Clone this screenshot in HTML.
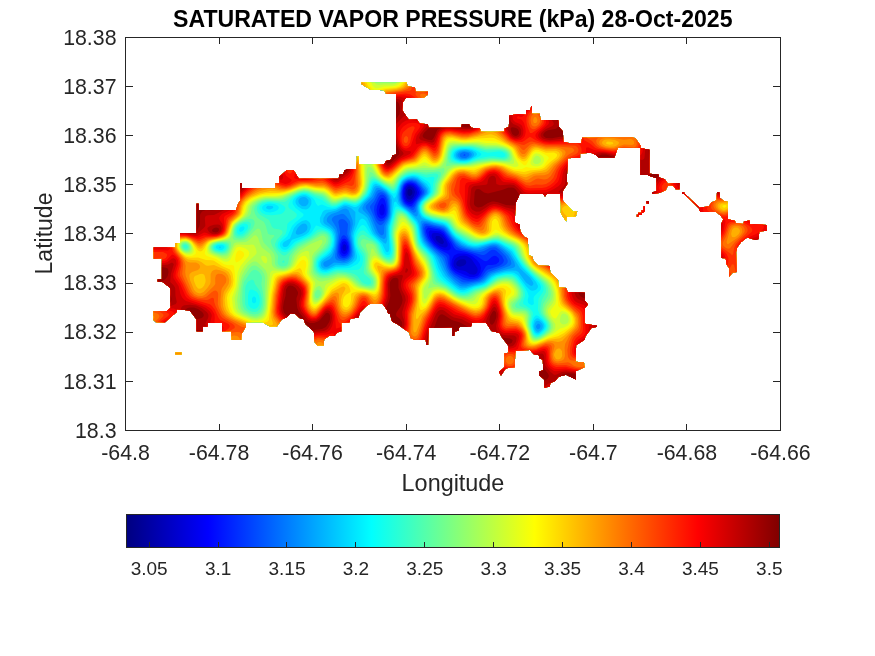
<!DOCTYPE html>
<html><head><meta charset="utf-8"><title>Saturated Vapor Pressure</title>
<style>html,body{margin:0;padding:0;background:#fff}body{width:875px;height:656px;overflow:hidden}svg{display:block}text{font-family:"Liberation Sans",Arial,sans-serif;fill:#262626}</style></head><body>
<svg width="875" height="656" viewBox="0 0 875 656">
<defs><linearGradient id="jet" x1="0" x2="1" y1="0" y2="0"><stop offset="0" stop-color="#000080"/><stop offset="0.125" stop-color="#0000ff"/><stop offset="0.375" stop-color="#00ffff"/><stop offset="0.625" stop-color="#ffff00"/><stop offset="0.875" stop-color="#ff0000"/><stop offset="1" stop-color="#800000"/></linearGradient></defs>
<rect width="875" height="656" fill="#fff"/>
<defs><clipPath id="isl"><polygon shape-rendering="crispEdges" points="153.7,247.5 175.6,247.5 175.6,243 180.2,243 180.2,233 196.6,233 196.6,203.7 198.5,203.7 198.5,210 236,210 238,204 240.5,200 240.5,183 241.5,183 241.5,188 275.3,188 275.3,183.3 279.5,183.3 279.5,176.5 287,170 293.5,170 298.9,178.8 338.7,178.8 339.4,174.7 343.5,174 344.2,170.6 347.6,169.2 356.5,169.2 356.9,156.2 358.6,156.2 359,164.4 384,164.4 386,161 391.5,159.6 392.2,155.5 396.1,154.5 396.1,93.7 386.1,93.7 384.1,90.3 370.4,89.6 364.9,86.2 361.4,84.1 361.4,82.5 406.7,82.5 407.4,86.2 414.9,87.5 415.6,91.7 428,91.7 428,94.4 423.9,97.8 406,97.8 402.6,102.6 402.2,110.2 408.8,119.8 416.9,119.5 419.6,123.6 427.8,124.3 428.5,127.7 461.4,127.7 461.9,124.3 469,124.3 471,127.7 480,128.4 480.6,131.8 504.7,131.8 504.7,128.4 508.8,127 509.5,115.4 518.4,114 525.9,114.7 526.3,109.9 530,109.9 531.4,106.2 532,106.2 532,113.7 539.6,113.7 540.7,119.9 558.1,119.9 558.8,126.7 562.9,131.5 563.3,141.8 569.8,143.2 581.4,143.2 582.1,137.7 632.2,137 635.6,138.4 640.4,145.3 640.4,148 617.8,148 614.4,157.6 598.6,157.6 595.8,154.9 591,152.8 580.1,153.5 580.1,157.6 567.7,158.3 566.8,180 567.3,184.1 562.8,191 562.8,200.6 573.1,211.6 577.2,211.6 575.8,216.4 566.9,217 566.2,221.2 564.9,219.8 560.8,213 560.8,202 560.1,193.7 547,193.7 545,196.5 542.9,193.7 519.6,193.7 518.2,197.8 515.5,203.3 514.8,222.5 519.6,224.6 520.3,231.4 524.4,236.9 527.8,238.3 528.5,254.4 532.6,257.1 533.3,260.6 538.1,265.4 549.8,266.1 550.2,272.2 558,279.8 558.7,287.3 566.2,288 567.6,292.1 584.8,292.8 584.8,300.4 587.9,304.5 584.8,308.6 584.8,323.7 592.3,325 597.1,325.7 596.4,327.1 591.6,327.8 585.3,336.4 584.6,339.8 576.1,345.3 575.7,361.7 584,362.4 584.6,367.2 575.7,371.3 575.7,379.6 566.1,374.8 558.6,376.8 555.2,380.9 550.4,383 549.7,386.4 544.6,387.8 544.2,379.6 539.4,375.4 539.4,371.3 543.2,370.6 542.8,359.7 539.4,358.3 538.7,354.9 533.9,354.2 529.8,350.1 515.4,350.8 514.7,367.2 507.8,367.9 505.1,369.3 501,375.4 498.9,372 504.4,367.2 504.4,353.5 508.5,352.8 508.5,346 501.7,337 499.6,332.9 491.4,330.9 486,322.5 472.3,322.5 471,326.5 459.3,327 458.6,330.7 454.5,331.5 454.2,336 452.4,336 452.4,327.2 428.4,328 428.1,344.9 426.4,344.9 425.7,340.1 414.7,340.1 410.6,338 409.2,332.5 405.1,329.8 397.5,324.3 392.1,321.6 390,314 388,313.3 387.3,310.6 382.5,303.7 370.1,303.7 366,306.5 359.9,312.6 358.5,317.4 350.2,318.8 349.6,322.2 341.3,322.9 341.3,331.2 337.2,332.5 334.5,336 329,336 324.2,339.4 323.5,345.6 317.3,345.6 314.6,342.1 313.9,331.8 305,323.6 304.3,319.5 299.5,318.1 295.4,314 290.6,313.3 286.5,317.4 281.7,319.5 276.9,326.4 270,326.4 262.5,322.2 246,322.2 246,326.4 241.6,333.9 241.2,340.1 231.6,340.1 231.2,331.2 222,331.2 222,322.9 207.6,322.9 207.6,326.4 202.8,326.4 202.8,331.2 196.6,331.2 196.6,319.5 189.8,310.6 176.7,309.2 176.7,312 165,322.2 156,322.2 153.4,320 153.4,311.3 166.5,311.3 170.6,307.8 170.6,290 170,287.8 161.9,281.4 157.7,281.4 157.7,279.5 161.9,279.5 161.9,258.5 153.7,258.5"/><polygon shape-rendering="crispEdges" points="640.4,148 649.3,149.8 649.3,175 640.4,175"/><polygon shape-rendering="crispEdges" points="648,173.7 658.4,174.6 659.3,177.4 664.8,179.2 667.9,183.8 679.4,182.9 679.4,189.3 675.8,189.3 673,185.6 667.9,185.6 665.7,190.2 659.3,192.9 652,193.8 652,192.5 656.6,191.1 656.6,178.3 648,175.5"/><polygon shape-rendering="crispEdges" points="699.1,207.9 709,206.3 711.3,202.5 716.6,200.2 717,192.3 719.3,192.3 719.9,198 724.2,201 727.6,201.8 728,219.3 734.9,220.8 735.6,223.1 743.3,223.9 744,221.6 749.4,220.4 750.1,224.3 766.6,224.9 766.6,230.7 759.3,231.5 758.5,239.1 755.5,239.9 747.1,237.6 741,242.2 737.2,247.5 736.1,252.1 736.7,271.9 732.6,272.7 729.1,276.8 729.5,268.8 726.5,264.3 725.7,258.2 721.5,257.9 721.2,223.9 723.4,219.3 720.4,215.5 715.8,211.7 700.6,212.1 699.1,209.4"/><polygon shape-rendering="crispEdges" points="683.3,193.2 684.3,193.2 699.6,207.6 699.1,208.6"/><polygon shape-rendering="crispEdges" points="682,192 684.2,192 684.2,194 682,194"/><polygon shape-rendering="crispEdges" points="646.5,201.3 649,201.3 649,203.5 646.5,203.5"/><polygon shape-rendering="crispEdges" points="643.4,206.3 645,206.3 645,211.5 643.4,211.5"/><polygon shape-rendering="crispEdges" points="641.5,210 643.4,210 643.4,213 641.5,213"/><polygon shape-rendering="crispEdges" points="638,212.8 642,212.8 642,215 638,215"/><polygon shape-rendering="crispEdges" points="636.8,214.8 638.5,214.8 638.5,216.6 636.8,216.6"/><polygon shape-rendering="crispEdges" points="175.4,352.4 181.5,352.4 181.5,354.5 175.4,354.5"/></clipPath></defs>
<g clip-path="url(#isl)" shape-rendering="geometricPrecision"><rect x="148" y="78" width="640" height="320" fill="#00008f"/>
<path fill="#0000af" fill-rule="evenodd" d="M148,78l634,0 0,314-634,0zM408,189.5l-.6,2.5 .1,2 .5,1.3 2,1 2.2-2.3 .3-2-.5-1.7-2-1.5z"/>
<path fill="#0000cf" fill-rule="evenodd" d="M148,78l634,0 0,314-634,0zM408,186.7l-2,2.5-.4,4.8 1.3,4 1.1,1.3 2,.4 2-1.3 1.9-2.4 1.1-4-1-2.9-2-2.1-2-.7zM436,235.9l-.6,2.1 .7,2 1.8,2 2.1,1.4 2,.8 1-.2 1.1-2-2.1-4.1-2.7-1.9zM460,259.4l-2,1.1-1.3,1.5-.6,2 1.2,2 2.7,.8 4-1.3 1.8-1.5 .6-2-.9-2-1.5-.8z"/>
<path fill="#0000ef" fill-rule="evenodd" d="M148,78l634,0 0,314-634,0zM344,243.9l-1.3,2.1-.3,2 .6,2 1,1.2 2-1.1 .4-2.1-.4-2.7zM408,185.1l-2,1.5-.8,1.4-.9,6 1.7,6.1 2,1.7 2,.3 2-1 2-2.3 2.9-4.8 .2-2-1.1-3-2.5-3-3.5-1.3zM432,233.7l-.5,2.3 .6,2 1.9,3.1 2.8,2.9 3.2,2.2 4,1.4 2-.2 1.6-1.4 .1-2-1.6-4-4.1-5.3-4-1.8-4-.1zM460,255.9l-4,2.1-2,2.7-.6,3.3 .4,2 1.4,2 2.8,1.8 6,1 2,.8 4,2.7 4,.5 2-.9 1.3-1.9 .4-2-.3-2-5.2-8-2-2-3.7-2-2.5-.5z"/>
<path fill="#0010ff" fill-rule="evenodd" d="M148,78l634,0 0,314-634,0zM344,241l-2,1.6-1.2,5.4 .6,4 .6,1.1 2,1.1 2-.7 1.1-1.5 .9-4-.2-2-1.7-4zM382,203.5l-2,2.8-.9,3.7 .5,4 2.4,1.7 2.2-1.7 .6-4-.8-4.7zM408,183.7l-2,1.2-2,3.1-.7,4 .1,4 .6,2.8 1.8,3.2 2.2,1.6 2,.5 2-.6 2-2.3 3.7-5.2 1.1-2 .2-2-1.8-4-3.2-3.3-2-1zM430,230.3l-1.4,1.7 .5,4 2,4 3.2,4 5.7,4.2 4,1.8 4,.4 2-1 .7-1.4-.6-4-6.4-10-3.7-2.5zM458,253.6l-4,2-2.2,4.4-.4,4 .4,2 2.2,3.7 4,2.5 12,4.8 4,.1 4-1.7 2.3-3.4 .7-4-1.1-4-3-4-5-4-3.9-1.7-4-.9z"/>
<path fill="#0030ff" fill-rule="evenodd" d="M148,78l634,0 0,314-634,0zM342,239.5l-2,4.8-.4,7.7 .7,2 1.7,1.9 2,.5 2-.6 2-2 1.1-3.8-.2-4-.9-3.6-2-3.1-2-.9zM382,197.7l-2,1.8-1.2,2.5-1.6,4-.7,4 .5,4 1,2.4 2,2 2,.3 2-1 1.3-1.7 .9-2 .3-4-.5-5.7-1.2-4.3-.8-1.6zM406,183.6l-2.1,2.4-1.2,4-.3,4 .3,4 1.3,3.5 2,2.4 4,2 2-.2 7.3-9.7 1.2-2 .3-2-1.8-4-3-3.4-2-1.4-4-.9zM428,227.6l-2,2.4 .1,2 1.9,5.8 2,3.3 4,4.5 4,3.1 10,5.3 1.5,2 .2,8 1.2,4 1.1,2 4,3.4 8,4 6,1.6 4-.2 3.2-.8 3-2 5.8-9.7 2-1.2 4,0 4-.8 2.9-2.3 .4-2-.8-2-2.5-2.1-2-.2-2,1-4,3.6-2,1-2-.5-7.5-4.8-4.3-2-6.2-1.9-9.9-2.1-2.1-2.3-3.1-5.7-7.1-10-3.8-2.2z"/>
<path fill="#0050ff" fill-rule="evenodd" d="M148,78l634,0 0,314-634,0zM344,235l-2,1.1-2,3.8-1.4,6.1-.4,6 .3,2 1.5,2.8 2,1.2 2,.3 2-.5 2.3-1.8 1.2-2 .7-4-.7-6-1.5-4.4-2-3.1zM380,195.2l-1.9,2.8-3.7,8-.4,4 .8,4 1.6,4 1.6,2.2 2,1.2 2-.1 2-1.1 2.8-4.2 .9-4 0-4-.6-6-1.1-4.2-2-2.5-2-.8zM408,181.6l-3.7,2.4-1.2,2-1.5,6 .1,6 1.4,4 1.5,2 3.4,2.5 4,1.3 2-1.4 3.5-6.4 4.6-6 .4-2-1.8-4-4.7-4.9-4-1.8zM426,225.7l-1.5,2.3 .1,4 1.1,4 2.3,4.6 6,6.7 11.9,8.7 1.2,2 1.4,8 1.7,4 3.8,4.2 8,5 2,.9 4,.7 6-.5 4-1 4-2.7 4-5.5 2-1.6 11-3.5 3.1-2 1.5-2 .3-2-1.9-4-6-5.6-2-.7-2,.1-2,1-4,3.3-2,.8-2,.1-22-6-4-2.5-10-13.8-2.5-2.7-3.5-1.6-10-2.5z"/>
<path fill="#0070ff" fill-rule="evenodd" d="M148,78l634,0 0,314-634,0zM340,219.4l-.9,.6-.8,2 1.8,10-2.5,14-.8,8 .3,2 1.1,2 1.8,1.2 4,.8 4-1.6 2.1-2.4 1.1-4-.1-4-1.1-6.1-2.8-7.9 .8-10-2-3.1-2-1.3-2-.5zM378,193.6l-4,7.6-3.9,4.8 0,2 5.9,13.5 2,2.5 2,1.3 2-.6 2-1.9 3.3-4.8 1.2-4 .2-8-.7-6.3-2-4.6-2-1.9-2-.9-2-.1zM406,181.4l-2.7,2.6-1.8,4-.9,6 .6,6 2,4 2.1,2 6.7,3.9 2-.1 3.3-7.8 6.3-8 .5-2-.5-2-2.9-4-4.7-4.4-4-1.4-4,.4zM426,223.8l-2,.8-1.1,3.4 .8,6 2.4,6 4.8,6 11.9,10 1.7,2 3,10 2.5,4.5 4,4 8,5.4 2,.6 4,.1 8-1.4 4-1.2 2.9-2 5.4-6 15.5-6 2.9-2 1.1-2-.2-2-2.1-4-6-6-3.5-2.4-2-.4-4,.6-6,3.2-4,.9-6-.6-12-3.3-3.8-2-2.2-2-12-15.2-4-1.7zM464,153.9l-.6,2.1 1.9,0-.1-2z"/>
<path fill="#008fff" fill-rule="evenodd" d="M148,78l634,0 0,314-634,0zM342,213.8l-7.6,2.2-2.2,2-.5,2 4.9,8 1.4,6-.8,8-2,12-.1,4 1.7,2 1.2,.5 6,1.2 4-1.4 2-1.7 1.7-2.6 .6-4-.9-8-2.2-10 1.3-8-.3-4-.9-2-3.3-4.1-2-1.7zM380,189.9l-2,.2-1.8,1.9-2.7,6-7.5,7.5-.4,2.5 5.6,8 6.8,16 2,2.4 2,1.1 1.9-1.5 .5-8 3.6-6.8 1.1-3.2 .7-4-.1-6-.4-6-1.3-4.1-2-2.7-2-1.6zM408,179.7l-4,2.2-2.6,4.1-1.6,8 .4,6 1.8,4 1.8,2 10.2,6.9 2-1.3 .7-5.6 1.6-4 6.7-8 .6-2-.4-2-4.7-6-4.5-3.7-4-1.1zM464,152l-2,.5-2.3,1.5 .3,2.4 2,1.4 2,.3 2-.2 3.1-1.9 .4-2-1.5-1.2zM424,222.3l-1.9,1.7-.4,4 .8,6 2.2,6 4.5,6 12.6,12 2,4 2.8,8 2.4,4 5,4.9 6,4.6 2,.9 4,.2 14-3.1 4-2.5 6-6 19.6-7 1.9-2-.8-4-2.7-4.5-5.6-5.5-6-4-2.4-.5-3.8,.5-8.2,3.4-4,.7-6-.5-6-1.6-6-2.7-4-3.3-4-4.4-6-8.5-2-1.7-2-1-8-1.7-6-2z"/>
<path fill="#00afff" fill-rule="evenodd" d="M148,78l634,0 0,314-634,0zM342,209.6l-4,2.1-6.5,2.3-2.8,2-1.5,2-.5,2 .5,2 4.8,4 3.1,4 1.2,4 .1,6-1.2,8-2.7,8-2.5,2.9-6,3.1-.9,2 .9,2.3 2,.6 2-.5 6-3.8 8,.7 4-.3 2.3-1 2.6-2 2.4-4 .2-4-2.7-18 2.1-10-.4-4-4.1-10-2.4-1.5-2,.2zM378,187.7l-2,.6-4,8.3-7.8,7.4-1.9,4 .6,2 5.1,4.9 1.9,3.1 6.1,15 4,4.2 4,2.1 1.4-1.3 .6-1.8 .3-10.2 3.3-8 .9-4 0-14-1.2-4-2.9-4-4.4-3zM406,179.5l-3.2,2.5-2.2,4-1.8,8 .2,6 1.7,4 1.8,2 11.5,9.2 2,1.2 1.3-.4 .5-2-.4-6 .9-4 2.5-4 5.6-6 .6-2-.2-2-.9-2-3.6-4-4.3-3.9-2-1.1-4-.8zM460,151.8l-2.4,2.2-.1,2 2.5,2.4 2,.7 4-.1 2.9-1 2.5-2 .5-2-1.9-2.1-6-1zM538,323.5l-2,2.5 .3,2 1.7,1.4 2-1.1 .6-2.3-.6-1.5zM422,220.6l-1.4,1.4 0,6 1.3,8 2.1,5.3 3.6,4.7 8.3,8 3.3,4 5.3,12 3.5,5.7 8,7.5 4,2.7 2,.6 4-.1 16-4.3 3.1-2.1 3.8-4 3.1-2.3 10-3.3 10.6-2.4 1.4-.6 1.2-1.4-.9-4-4.9-8-4.4-4-7-4.8-2-.7-4-.1-14,4.2-4,0-6-1.3-6-2.4-6-4.6-4-4.3-5.6-8-2.4-2-18-5z"/>
<path fill="#00cfff" fill-rule="evenodd" d="M148,78l634,0 0,314-634,0zM302,197.2l-1.9,.8-1.6,2-.1,2 1,2 2.6,1.9 2,.4 2-.4 2-2 .6-1.9-.2-2-2.4-2.5-2-.5zM346,205.9l-2,.3-8,4.2-8,2.2-2,1.4-2.5,4-.2,4 1.4,2 5.3,3.2 3,2.8 1.8,4 .5,4-.8,8-2.5,7-2,2.6-6,3.8-2.5,2.6-.6,2 .2,2 .9,1.5 2,1.3 4-.3 8-3.7 8,.2 4-.9 4-2.7 2.5-3.4 .5-4-2.8-18 .6-4 2.4-8 .2-12-4.4-4zM376,185.7l-2,1.5-3.6,8.8-8.2,8-3.1,4-.9,2 .5,2 5.3,2.9 3.3,3.1 2,4 2.9,8 2.3,4 9.5,8.9 2,.9 1.3-3.8 .5-14 2.8-8 .8-4 .5-14-1.1-4-4.8-5.7-6-3.7zM408,177.8l-4.3,2.2-1.9,2-1.8,3.6-2.5,10.4-.1,2 .9,4 2.7,4 8,6 8.3,8 1.7,4 1.8,12 2.2,6 3,4 9.6,10 2.3,4 4.2,10 3.6,6 8.3,7.9 6,4.1 2,.5 4-.4 18-5.6 7.2-6.5 4.8-2.4 10-2.6 6-.6 4,.4 2.4,1.2 7.6,10.4 4,3.1 2,.5 1.5-2-.6-2-2.6-4-10.3-9.7-9.9-16.3-8.2-6-3.9-2.1-4-.7-4,.6-12,3.4-4,.1-6.1-1.3-5.9-2.7-6-4.6-4-4.3-4.3-6.4-3.7-3.1-10-2.4-12.2-4.5-2.4-4-.9-4 .1-4 1.6-4 7.5-8 .7-2-.4-3.3-3.7-4.7-6.3-5.3-4-1.4zM464,149.8l-4,.7-2.8,1.5-1.4,2-.1,2 1.2,2 4.2,2 4.9,.1 5.2-2.1 2.4-2 .7-2-1.4-2-4.9-1.9zM536,321.3l-1.5,2.7-.1,4 1.6,3.1 2,.8 3.1-1.9 1.4-2 .4-2-.6-2-2.3-2.5-2-.8zM304,223.6l-2,.5-2,1.3-2.4,2.6-1.9,4 .3,2 2,.7 3.5-.7 3.6-2 1.8-2 .6-2-.2-2-1.3-1.9z"/>
<path fill="#00efff" fill-rule="evenodd" d="M148,78l634,0 0,314-634,0zM220,246l-1,2 1.9,0zM268,205.7l-.9,.3-1.2,2 2.1,1.3 2,.1 3.4-1.4-.8-2zM300,196l-3,2-1.3,2-.3,2 .6,2 2,2.5 4,2.5 4,.5 2-.7 2-2 1.4-2.8-.1-4-1.2-2-4.1-2.5-2-.3zM406,177.6l-3.5,2.4-1.6,2-1.9,4-3,10.2-2,2.6-1.3-2.8-5.5-6-7.2-4.7-4-1.5-2,.6-1.2,1.6-2.1,6-2.2,4-10.5,9.9-2,1-2,0-6-2.2-4-.1-8,4.1-4,.8-6,.3-2,.8-1.4,1.4-2.7,6 .1,4 2,2.9 8,4.5 2,2.1 1.8,4.5 .4,4-.8,6-2.7,6-2.7,2.8-6,4.2-2.3,3-.4,4 .8,2 1.9,1.8 4,.8 10-3.9 8-.1 4-.6 4-2 4.2-4 .8-2 .1-2-2.9-12-.6-8 .9-4 5.2-12 2.3-1.4 2,.6 2,1.9 6.4,12.9 9.9,10 3.7,7.7 2,.5 1.2-2.2 .2-2-.7-20 3.3-12 2-13.5 2-1 1.4,2.5 1.9,2 8.7,6.3 8.8,9.7 1.5,4 1.9,12 1.8,4.7 2.4,3.3 9.4,10 2,4 2.7,8 4.4,8 3.8,4 11.3,9 2.4,1 3.6,.2 10-3.7 8-1.8 4-2.1 6-5.5 4-2.2 8-2.1 6-.6 4,.5 4,2.6 8,10.6 4,4.1 2,.8 2-.2 2-.9 1.6-1.7 .4-2-1.9-4-5.2-6-8.9-8.8-10-15.6-4.4-3.6-7.6-4.4-4-1.4-4,.2-10,2.7-6,1-4-.3-4-1.1-6-3.1-6-4.4-3.1-3.2-4.9-7.1-2-2-4-1.8-8-1.6-8-2.8-4-2.6-2.1-4.1-.5-6 1.7-4 7.9-8 .8-2-.2-4-2.7-4-8.9-6.7-2-.8-4-.4zM460,149.5l-2,.6-2.8,1.9-1,2-.2,2 .9,2 1.1,1 4,1.7 4,.4 5.5-1.1 6.6-4 1-2-1.4-2-3.7-2-6-1zM302,220.9l-4.5,3.1-3.5,4-4,10.4-6.2,3.6-1.3,2 .3,2 1.2,1 2,.1 2-1.1 4-6.2 10.9-3.8 3.7-2 2.3-2 1.8-4 .2-2-.9-2.9-2-2.2-2-.8zM536,318.5l-2,2.3-1,5.2 .8,4 1.2,2 1,1.1 2,.3 2-.8 2.9-2.6 1.2-2 .4-2-.4-2-2.1-3-4-2.7z"/>
<path fill="#10ffef" fill-rule="evenodd" d="M148,78l634,0 0,314-634,0zM216,245.9l-.3,2.1 3.7,2 2.6-.1 2.3-1.9 0-2-2.3-1.2-4,.2zM240,227.6l-1.1,2.4 1.1,1.9 2-.4 1.8-1.5 .8-2-.6-1.4-2-.2zM252,298l0,3.9 2,1.7 2.1-1.6-.1-4-2-1.7zM266,203.9l-3.3,2.1-.7,2 .8,2 3.2,2.1 4,.3 4-.7 3.6-1.7 1.3-2-.7-2-3.7-2-4.5-.5zM408,175.8l-4,1.9-2.7,2.3-2.3,4-3,8-2,1.8-2-.8-5.8-5-6.2-4-4-1.8-2,.1-2,1.7-2.7,8-2.3,4-7,6.7-4,2.3-2,.1-8-2-2,.2-8,3.9-4,.6-4-.8-6-2.4-2,.3-2,1-2-2.3-1.4-3.6-1.7-2-4.9-3.3-2-.7-4,0-4.9,2-2.5,2-1.5,2-.6,2 .2,2 2.9,4 7.9,6-.2,2-7.4,6-3.9,4-4.6,10-6.6,6-1,2 .2,2.3 2,2.6 2,.9 2-.1 2-.9 6.5-6.8 11.5-5.5 4-2.5 1.9-2 4.1-6.4 2,.3 8,3 4,2.6 2,3.1 1,5.4-.9,6-2.1,4.3-3.7,3.7-5.4,4-2.7,4-.4,4 2,4 2.2,1.5 4,.5 10-3.6 10-.1 4-.6 7.5-3.7 2.5-3.4 .2-2.6-.4-2-4.1-10-.8-8 .8-4 2.3-4.5 2-2.8 2-1.6 2,.1 2,2 4.2,6.8 7.8,7.1 2.5,2.9 3.5,8.6 2,2.1 2,.6 2-1.1 1.1-4.2-1.4-16 .5-8 4.7-18 1.1-1.6 2,.4 8.3,5.2 9.1,10 1.9,4 1.9,12 1.2,4 2.4,4 9.3,10 1.8,4 2.4,8 3.7,8 3.6,4 12.4,9.6 4,2 2,.3 4-.5 8-3.6 10-2.7 4-2.6 5.1-4.5 3.7-2 9.2-2.1 6,.1 4,1.9 2,2 7.2,10.1 2.2,4 1.3,4-1,4 .3,2.6 1.3,1.4 2.7,1.2 1.9-1.2-.4-6 .9-2 6.1-6 .5-2-.2-2-.9-2-3.3-4-13.8-14-4.3-6-4.5-8.2-2-2.6-12-6.8-4-1.2-4,.3-14,3.3-4,0-4.1-.8-5.9-2.8-8-5.5-3.4-3.7-4.6-6.6-2-1.8-4-1.5-10-2.3-8-3.4-2-2.2-1.1-2.2-.8-4 .1-2 1.8-4 6.6-6 2.6-4 .1-4-1.1-4-2.2-2.4-10-5.8-4-.8zM456,149.7l-2.5,2.3-.9,2-.1,2 .5,2 2,2 5,1.7 6,.1 4-1.1 10.2-4.7 1.3-2-2.4-2-3.8-2-5.3-1.5-8-.3zM536,315.2l-2,2-1.2,2.8-.8,2.6-.1,3.4 2.1,6.8 2,1.8 2,.1 2-.7 4-3.5 1.6-2.5 .3-2-.3-2-2.7-4-4.9-4.3z"/>
<path fill="#30ffcf" fill-rule="evenodd" d="M148,78l634,0 0,314-634,0zM218,243.8l-3.7,2.2-.2,2 1.7,2 4.2,1.3 2,0 2.9-1.3 1.3-2 0-2-2-2zM244,223.6l-4,1.6-2.6,2.8-.7,4 1.3,2.3 2,.4 2-.4 2-1.2 2.8-3.1 1-2 .2-2.5-1.1-1.5zM250,289.8l-1.2,2.2-.8,3.9 .1,8.1 .9,2 1.9,2 3.1,1 2-.4 2-1.7 1.3-2.9 .5-4-.7-4-1.1-2.5-2-2.2-4-1.8zM262,204l-2.1,2-.6,2 .4,2 2.3,2.9 4,1.9 6,.4 8-1 2-.7 1.8-1.5 1.3-2 .4-2-1.6-2-3.4-2-2.5-.7-6-1.1-4-.1zM412,173.9l-6,1.6-4,2.6-3,3.9-3,7.3-2,2.1-2-.4-7.1-5-8.9-5.2-2-.4-2,1-1.5,2.6-3.5,10-5.4,6-3.6,2.7-2,.8-4-.1-6-1.5-2,.2-8,3.7-4,.4-4-1.6-6-4.7-6-2.3-8-4.2-4-.7-2,.3-3.4,1-3.8,2-4.3,4-1.9,4-.3,2 .7,2 5.7,4 2,2 .1,2-1.5,2-6.2,4-1.7,2-.6,6-1.1,4-5.9,6-1.8,2.8-.4,3.2 .8,2 3.6,3.5 2,.6 2-.2 4-2.4 6-6.2 14.5-7.3 6.7-6 2.8-.7 4,.6 4,1.8 2.1,2.3 1.4,4 .1,4-1,4-2.5,4-8.1,6.8-2.5,3.2-.7,2-.3,4 1.5,4.3 2,1.9 4,1.3 4-.5 6-2.4 4-.9 12,.6 8-.5 2-1.2 2-3 1.1-5.6-.5-4-4.6-7.4-1.5-4.6 0-6 1.5-4.1 2-2.3 2-1.2 2,.2 14,12.3 2,3.1 2,6 2,3.1 2,1.5 2,.7 2-.5 1.8-2.8 .6-4-1.8-16 .7-8 4.5-16 2.2-1.1 2,.5 4,2 3.3,2.6 8.1,10 1.4,4 1.8,12 1.4,3.9 2,2.9 8.5,9.2 1.9,4 5.1,16 2.8,4 17,12 2.7,1 4,.4 4-1.2 6-3.1 10.6-3.1 3.3-2 6.1-5.1 4-2.1 4-1.1 6-.6 4,.5 2,.9 2,1.5 4.7,6 2.5,4 1.7,4 .2,4-2,6 .3,2 6.6,4.4 2.7,3.6 .2,2-2.1,10 .5,4 1.3,4 1.4,2.5 2,1.3 2,0 4-2 3.9-3.8 1.4-4-1.3-4-6.6-8-1.5-4 .4-10 .6-2 4-6 .7-2-.5-4-2.7-4-12.4-12-5.3-6-4.1-6-4.6-8.9-4.1-3.1-9.9-4.8-4-.9-4,.3-14,3.1-4-.1-4-1-5.3-2.6-8.7-5.8-2.2-2.2-5.7-8-2.1-1.5-14-3.6-6.9-2.9-2.1-2-1.2-2-.9-4 .1-2 2-4 6.9-6 2.6-4 .5-8 1.5-6-.5-1-2-.3-4,.9-2-.1-8-3.1zM458,147.9l-4.6,2.1-1.5,2-.9,4 .3,2 1.2,2 5.5,2.2 6,.6 4-.6 10-3.6 10-2.1 6-.2 8,1.1 2-.4 1.4-1-.1-2-3.3-2.2-4-.3-10,1.2-6-1.4-10-3.5-8-.5z"/>
<path fill="#50ffaf" fill-rule="evenodd" d="M148,78l634,0 0,314-634,0zM184,244.8l-.8,1.2 .8,2.1 2,.7 1.6-.8 .1-2-1.7-1.5zM216,243.7l-2.9,2.3-.3,2 1.1,2 2.1,1.3 6,1.3 2.4-.6 2.3-2 1-2 .2-2-1-2-4.9-1.2zM244,221.9l-4.4,2.1-2.4,2-1.3,2-.7,4 .2,2 .6,1.3 2,1.3 4-.1 2-1 3.7-3.5 2.6-4 .6-4-.9-1.5-2-1zM252,279.6l-4,2.2-2.4,4.2-.5,4 0,14 1.5,4 2,2 3.4,1.8 4,.2 2-1 2.4-3 1.2-4 .1-6-1.7-6.8-5.1-7.2-.9-3.2zM408,173.6l-4,1.8-4,3.4-4,8-2,2.5-2,0-2-1-14-9-2-.7-2,.3-2,2.8-2.3,8.3-1.9,4-5.8,6.2-4,2.1-2,.3-6-1.4-4-.1-8,3.4-4,.2-2-.9-8-6.5-6-1.7-8-3.3-4-.6-4,.8-3.7,1.5-3.6,2-6.7,5.3-2,.6-14-.9-7.1,1-3.6,2-1.7,2-.7,2 .1,2 1,2.4 2,2.3 9.1,5.3 2.9,7.1 2,1.3 6,1.1 2,1.1 .6,1.4-.4,2-5.4,6-1.8,4 .2,2 2.1,4 4.7,4.8 2,.9 2-.6 12-11 12.4-6.1 7.6-5.7 4-1 3.3,.7 2.7,1.7 1.5,2.3 .6,2 .1,4-.5,2-2.2,4-9.5,8.7-2,3.3-.8,6 .8,3.8 1.4,2.2 2.6,2 4,1 4-.5 6-2.3 4-.9 4,.1 8,1.3 4,1.4 3.3,1.9 4.5,6 2.2,1.6 4,1.1 2.6-.7 .8-2-1.4-3.1-5.8-4.9-.6-2 1.4-12-.2-4-.8-2.4-4.2-5.6-1.7-4-.1-4 .7-2 1.3-2.1 2-1.1 2,.1 10,6.1 4,4.1 2.5,6.9 2.6,4 2.9,2.2 2,.6 2-.1 2-1.7 1.2-5 0-6-1.6-12 .9-8 3.5-13.1 2-2 4,.6 4,2.5 8.2,10 1.6,4 1.8,12 1.3,4 2.6,4 5.8,6 2.7,4 6,19.8 2,3.1 10,5.8 8,6 4,1.7 4,.5 4-1 7.1-3.9 10.9-3.6 8-6 4-2.3 8-1.6 6,.7 2,1.1 3.6,3.7 4.9,8 .7,4-.2,2-3.9,8 .7,2 6.2,2.3 2.7,1.7 1.5,2 .8,4-1.1,6 .1,4 2.7,8 1.3,2 2,.9 2-.1 2.3-.8 3.7-2.6 3.3-3.4 1.3-4-1.3-4-5.8-8-.8-2-.5-4 1.6-8 4.2-7.8-.1-4.2-1.9-4-1.7-2-13-12-5.2-6-4.2-6-4.9-10-3-2.4-14-6.1-4-.1-10,2.5-6,.7-4-.3-4-1.1-14-8.5-6.6-8.7-2.2-2-3.2-1.4-12-2.7-6-2.4-3.2-3.5-.8-2-.2-4 2.1-4 7.2-6 1.7-2 1.5-4 .7-6 3.3-8-.3-1.4-2-1.1-2-.1-8,1.4-8-1.8-4-.4zM454,148l-2,1.5-1.5,2.5-.9,6 .6,2 1.8,1.8 4,1.1 10,.5 14-3.9 10-1.4 14,.6 2.2-.7 1.3-2-.3-2-1.6-2-5.6-1.9-14,.3-12-3.3-4-.5-10,.1zM282,261.8l0,.4 2,.6 .6-.8-.6-1.9z"/>
<path fill="#70ff8f" fill-rule="evenodd" d="M148,78l634,0 0,314-634,0zM184,243.4l-1.1,.6-.9,1.6 .6,2.4 1.4,1.4 2,.9 2-.5 1.1-1.8-.2-2-1.5-2-1.4-.6zM222,242l-4,.5-4.4,1.5-1.7,2-.3,2 .8,2 2.7,2 4.9,1.5 4,.1 2-.9 2-2.2 1.1-2.5-.1-4-1-1-2-.8zM246,219.7l-6,2.9-4.1,3.4-1.7,4-.3,4 .4,2 1.7,2.1 4,.6 4-.9 4-3.3 5-6.5 1.6-4 0-2-.9-2-1.7-.9-2-.3zM410,171.8l-4,1.3-4.5,2.9-3.4,4-4.1,7.2-2,.5-8-4.3-10-6.7-2-.5-2,1.7-3.4,12.1-2,4-4.6,5.1-4,2.2-2,.2-8-1.5-2,.1-8,3.2-4-.1-2.1-1.2-5.9-5.5-2-1-8-1.9-6-2.3-4-.5-4,.8-4,1.6-12,6.6-4,.6-14-.3-4,1-4,2.1-2.8,2.8-.8,2-.2,2 .9,4 2.6,4 6.3,4.1 1.9,3.9 2.1,7.7 2,1.1 4,.1 .5,1.1-3.6,4-.2,2 1.4,4 6.1,10-.6,6 .4,2 2,2 2,.6 4-.7 2-2.2 1.5-7.7 4.8-6 3.7-3.6 14-7.4 8-5.3 4-.3 2,.8 1.7,1.8 .7,2 0,4-.7,2-2.7,4-7,6.4-2.8,3.6-1.1,4-.2,4 .5,4 1.6,3 4,2.9 4,.8 4-.6 10-3.2 8,.7 4,1.2 4,2.2 8,7.5 4,1.5 5.2,0 1.8-2 .3-2-.4-2-1.1-2-3.9-4-1.3-2-.6-4 .7-10-.3-4-2-4-2.9-4-.9-2 0-2 1.4-2.5 2-.6 8,2.7 4,3.1 4.1,9.3 3.6,4 4.3,2.2 2,.1 2-1 1.5-3.3 .7-6-1.6-14 .5-8 2.9-11.1 1.2-2.9 .8-1 2-.6 2,.4 2,.9 2.7,2.3 7.4,10 3.6,18 2.3,4 5.6,6 2.9,4 4,12 2.1,10 1.4,2.3 10,4.6 10,7.2 4,1.6 4,.6 4-.6 8-4.6 10-3.6 12-8.1 4-1.2 4-.4 6,1.1 2,1.3 4,4.5 2,3.3 1.4,4-.2,4-.8,2-4.9,6-.5,2 1.6,2 7.4,1.4 2,.8 2.2,1.8 1.3,4-.6,6 .3,4 2.8,8.6 2,2.7 2,.7 4-.9 4.8-3.1 4-4 1.1-4-1.2-4-5.5-8-1-4 .9-6 4.7-8 .6-2-.5-6-2.1-4-1.6-2-13.7-12-5.3-6-4-6-5.2-11-4-2.8-14-5.7-4,0-8,2.1-6,.9-4-.1-4-.9-15-8.5-3-3-4-5.9-2-1.8-4-1.6-12-2.7-6-2.6-2-2.1-1.1-2.3-.3-4 2.4-4 7.4-6 1.7-2 1.6-4 1-6 3.9-8 .5-2-.6-2-2.5-.6-12,1-10-1zM458,145.9l-4,.7-2,1-2,2.4-1.4,4-.5,4 .7,4 1.2,1.1 4,.7 10,.5 6-.9 8-2.3 12-1.8 4-.2 10,.8 2-.3 2-1 1.1-2.6-.4-2-1.3-2-3-2-2.4-.7-4-.5-12,.2-14-3.2zM254,269.7l-2,1-2,2.2-6,9.1-1.3,6-.5,12 .6,6 2.1,4 5.1,3.4 4,1.1 4-.7 2-1.4 1.7-2.4 1.3-4 .5-6-.4-6-1.8-10 .7-6-.3-2-1.7-3.1-2-1.9-2-1.1z"/>
<path fill="#8fff70" fill-rule="evenodd" d="M148,78l634,0 0,314-634,0zM182,243.5l-1,2.5 .5,2 1.8,2 2.7,1.3 2-.1 1.7-1.2 .7-2-.4-2-1.3-2-2.7-1.5-2,0zM218,241.8l-4,1.3-2,1.3-1.1,1.6-.4,2 .6,2 2.9,2.6 4,1.5 4,1 4-.6 2-1.6 1.8-2.9 1.1-4-.1-4-.8-.5-4-.3zM444,168l-10,2-20,.1-6,.8-4,2-4,3.1-2,2.3-4,6.8-2,.9-2-.4-6-3.2-6.1-4.4-5.9-5.4-2-.5-2,6.4-1.8,9.5-1.5,4-4.7,5.9-4,2.4-2,.2-8-1.5-2,.1-8,2.9-2,.2-2-.5-2-1.3-4.4-4.4-3.6-2-6-1-8-2.6-4-.5-6,1.5-16,7.3-4,.5-10-.2-6,.9-4.7,2.1-4.5,4-.9,2-1.2,6-1.5,2-10,6-3.2,2.5-2,3.2-.7,2.3-.6,8 1.3,2 6,.5 4-.5 3.4-2 8.6-8.6 2-.9 2,.8 1.1,2.7 1.6,8 1.3,3 8,8 2.1,3 .7,2 .2,8 1.2,2 1.8,1.2 4,1.2 4-.6 2.6-1.8 1.5-2 2.3-8 2.7-4 4.1-4 20.8-11.8 2-.7 2,.2 2.3,2.3 .2,2-.5,2.5-3.7,5.5-6.4,6-2.4,4-.9,10 .7,4 1,2 3.7,3.3 4,1.3 6-.7 10-3.3 4,0 4,.6 6.2,2.8 7.8,7 4,1.6 6,1.1 2-.3 1.8-1.4 .9-4-1.1-4-4.8-6-.8-2-.5-4 .9-12-2.5-8 .4-2 1.7-.7 4.3,.7 2.4,2 3.8,8 3.5,4 2.7,2 3.3,1.5 2,.2 2-.7 2.1-3 .8-6-.1-6-1.3-10 .3-6 4-14 2.2-2 2,.1 4,2.6 7,9.3 1.3,4 1.7,11.5 1.6,4.5 2.4,3.7 6,6.8 2.9,5.5 2.8,10 .9,10 1.1,2 12.3,4.3 8,5.8 4,2.1 4,1.2 4,.4 4-1 7.3-4.8 8.7-3.5 10-6.7 4-1.8 6-.9 4,.6 2,.9 3.7,3.4 2.3,3.2 1.4,2.8 .6,4-1.6,4-5.8,6-.4,2 .8,2 3,2.3 8,.8 2,1 1.5,1.9 .6,2-.3,6 .5,4 3.5,10 1.6,2 2.6,1 2-.3 4-1.8 6.8-4.9 2.4-4-.2-4-6.2-10-.8-4 .2-2 1.5-4 4.4-6 .8-4-.6-4-1.5-4-2.8-4-14-11.8-5.6-6.2-4-6-4.1-10-1.4-2-2.9-2.2-16-6.5-4,.2-12,3-6-.2-4-1.3-14-7.7-3.4-3.3-4-6-2.5-2-18.1-4.6-4-2.2-2-2.7-.7-2.5 1-4 1.7-2 7.8-6 2.7-4 1.6-8 6.1-12 .4-2zM452,145.9l-2.3,2.1-1.7,3.6-2,14.7 8-1.2 14-.4 10-2.5 14-2 14,.7 3.2-.9 1.2-2-.4-4-1.1-2-2.9-2.4-4-1.4-6-.7-10,.1-10-2.4-4-.4-16,.1zM254,265.5l-2,.6-2.3,1.9-5.7,8.8-1.5,3.2-1.7,8-1.1,14 1.1,6 1.1,2 2,2 6.1,3.4 4,1.1 2,0 2.1-.5 3-2 1.6-2 1.5-4 .8-6-.4-14 .5-10-.8-4-2.3-3.4-4-3.6-2-1.2zM318,289.6l-2,1.4-1.1,3 0,2 1.1,2.3 2.1-.3 1.9-2 .7-2 0-2-.7-1.5z"/>
<path fill="#afff50" fill-rule="evenodd" d="M148,78l634,0 0,314-634,0zM184,241.7l-2,.7-1.4,1.6-.4,2 .5,2 1.3,2 2,1.5 2,.9 3.4-.4 1.8-2 .2-2-.4-2-1.2-2-1.8-1.4-2-.9zM454,143.9l-4,1.4-1.9,2.7-3.6,14-2.5,3.8-2,1.4-6,1.4-10-.7-16,1.6-4,2-4,3.1-3.1,3.4-2.9,4.9-2,1.4-4-.9-6.2-3.4-4.7-4-5.1-7.4-2-1.7-2,.1-1.2,3-.5,12-1.7,8-3.8,6-2.8,2.4-2,.9-4,.1-6-1.3-2,.1-8,2.6-2,.1-2.3-.9-7.7-6.5-10-2.1-6-1.9-4-.4-6,1.5-16,6.8-4,.6-12,.1-7.4,1.9-4.6,2.6-3.5,3.4-2.8,8-1.6,2-10.1,7.3-2,2.5-1.5,4.2-1.2,6-1.3,2.6-3.1,1.4-10.9,1.7-4,1.7-2.2,2.6-.4,2 .3,2 2.3,2.7 4,1.8 6,2 4,0 2-1.3 2-2.6 4-9 2-1 10-.7 3.2-1.9 4.8-4.4 2-.4 2,2.2 2.1,6.6 1.9,3.4 8.2,6.6 1.4,4 .2,6 .7,2 2.3,2 3.2,1.2 6,.5 4-1.4 2.7-2.3 1.3-2 3-8 5-5.6 10.6-6.4 9.4-4.1 2-.2 .5,2.3-.8,2-2.8,4-4.9,4.7-2,3.8-.8,15.5 .7,2 2.1,2.9 4,3.6 2,1.1 2,0 6-1.4 10-3.8 6-.1 6,2.1 8,7.1 2,1 8,2.1 4,.2 2-.9 1.2-1.9 .7-4-.9-4-4.4-6-1.7-4 .1-6 2.2-12 .8-1.7 2,1.6 1,2.1 3.3,4 3.7,3.3 4,2.6 4,1 2-.4 2-1.9 1.3-4.6 .4-6-1.4-14 .2-4 4.2-14 1.3-1.8 2-.4 2,.9 2,1.7 5.8,7.6 1.5,4 1.5,10 1.8,6 2.3,4 6.6,8 2.5,5.1 2.1,6.9 .8,6-.5,4-2.4,8.6 6-1.6 4,.1 4,.8 4,1.7 8,5.7 4,2.1 6,1.7 4,.4 4-1.3 4.9-4.2 9.1-4.5 12-7.4 6-1.6 6,.8 2,1.1 3.5,3.6 2.4,4 .5,2-.6,4-1.8,2.3-4.7,3.7-1,2 .7,4 1.2,2 1.8,1.4 2,.7 6,.3 3.4,1.6 1.1,2 1,10 4.5,12 2,1.7 2,.3 4-1.1 5.1-2.9 5.5-4 2.3-4-.2-4-6.2-10-.7-4 1.5-4 4.7-6.2 .9-3.8-.3-4-2.1-6-2.7-4-15.8-12.9-4.5-5.1-5-8-2.5-7.4-1.5-2.6-4.5-3.4-16-6.5-4,.3-8,2.6-4,.6-4-.1-4-1-16-8.8-2-1.8-4-6.1-2-2.1-4-1.6-8-1.4-8-2.3-3.9-2.4-1.3-2-.6-2 .2-2 .9-2 1.9-2 8-6 1.7-2 1-2 .9-6 1.5-4 7.4-12 2.3-2.1 4-1.6 16-1 10-2.4 12-1.8 17.4,.9 2.5-2-.2-4-1.7-4.3-1.5-1.7-2.5-1.5-4-1.4-6-.8-10-.1-12-2.4zM254,261.4l-2,.8-4,3.4-3.1,4.4-2.9,5.5-2,6.5-2.9,18 1,8 2.6,4 2.8,2 6.5,3 6,1.3 4-1.2 2-1.4 2-2.7 1.2-3 1-6 .2-12 1.1-14-.3-4-1.8-4-7.4-7.3-2-1.2zM316,287.8l-2,3.9-.5,4.3 .5,2.9 2,1.6 2-.5 2.2-2 1.8-2.9 .7-3.1-.7-3.6-2-2.3-2,.1z"/>
<path fill="#cfff30" fill-rule="evenodd" d="M148,78l226.7,0 0,4 .9,2 2.4,1.1 6-.7 8,.2 3.1-.6 2.2-2 0-4 384.7,0 0,314-634,0zM182,241.6l-2,1.9-.6,2.5 .5,2 2.1,3 2,1.5 4,1.1 2-.4 1.7-1.2 .8-2 0-2-1.8-4-2.3-2-2.4-.9zM450,143.3l-2,2-1.2,2.7-2.4,10-1.5,4-2.9,3.4-2,1.1-4,.8-4-.4-6-1.6-8,2.1-8,.8-4,1.8-4,3.2-8,9.2-2,.3-2-.5-6-3.1-5.2-5.1-4.8-8.2-2-1.4-2-.5-2,1.1-.9,3 .2,12-1,8-2.9,6-3.4,3.3-2,1-4,.2-6-1.4-2,.1-8,2.4-2,0-2-.9-5.2-4.7-2.8-1.8-10-1.8-6-1.7-4-.4-6,1.5-16,6.3-6,.9-12,.3-6,1.7-6,3.2-3.6,3.8-1.8,6-2.4,4-10.2,8.4-1.8,3.6-2.1,8-1.5,2-2.6,1.3-12.8,2.7-3.1,2-1.3,2-.5,2 .1,2 .9,2 2.5,2 10.2,4.2 4,.7 2-.9 2-2.2 4-8.6 2-2.2 2-.6 10,.7 4-.6 2,.6 1.6,2.9 1.1,4-.5,2-8.2,7.7-3.7,4.3-3.5,6-1.4,4-2,12-2.9,10 1.1,10 2.1,4 4.3,2.9 10,4.4 4,.5 2-.2 4-1.7 2-1.8 1.2-2.1 1.7-6 1.1-16 2-18 .6-2 1.4-1.3 2-.2 10,.4 3.2-.9 2.8-1.5 2.7-2.5 5.3-10.2 4-3.2 4-1.5 2-.2 1.1,1.1 .9,10-.8,10 .3,2 5.6,8 .3,2-2.5,8-.5,4 .7,4 .9,1.7 2,.6 2-.8 3.7-3.5 2.2-4 1.1-8 1.5-2 9.5-4.9 4-1.2 4-.1 4,1.2 4,2.8 4.2,4.2 3.8,1.8 10,2.1 4-.3 1.5-1.6 .9-2 .3-6-1.4-4-4.3-6-.7-2-.4-4 .8-4 1.3-3 2-1.6 2,.6 8,6 4,1.8 4,0 2-1.4 1.8-4.4 .5-6 0-6-1.1-10 .3-4 4.5-12.2 2-1.7 2,.7 2,1.8 5.4,7.4 1.2,4 1.8,10 1.6,4.9 2,3.6 7.2,9.5 3.2,8 1,4 .2,4-1.6,5.4-4.1,6.6-.6,4 .7,6.6 2,.1 2.8-4.7 3.2-3.7 2-1.1 4-.6 6,1.3 10,6.6 6,2.7 8,2.1 4,.1 2-.8 3.5-4.6 2.4-2 16.1-9.5 6-2.3 6,.1 3.3,1.7 2.2,2 2.5,3.6 .7,2.4 0,2-.9,2-5.3,4-1.5,2-.4,2 .8,4 2.6,4 2,1.3 8,.9 2.6,1.8 2,10 3.5,10 1.9,3.7 2,1.1 4-.3 5.4-2.5 8.6-5.4 2.3-2.6 1-2 0-4-6-8-1.5-4 .1-2 .9-2 3.4-4 2-4 .4-6-1.6-6-1.9-4-3.4-4-13.7-10.3-4-3.8-5.2-7.9-3.6-10-2.9-4-4.3-2.6-16-6.7-4,.4-6,2.5-4,1-4,.1-4-.8-17.9-9.9-2.1-2.2-4-6.3-2-1.5-18-3.9-4-1.8-2.2-2.3-.6-2 .1-2 1.1-2 10.2-8 1.8-2 .8-2 .9-6 1.4-4 6.7-10 3.8-3.6 6-1.6 12-.5 10.1-2.3 11.9-2 6,.1 14,2 2-.9 0-3.2-2.5-8-1.5-2-2-1.6-4-1.7-6-1.5-12-.5-10-2-12,.5-10-.7zM536,155.7l-2.2,2.3-.7,4 1.8,2 3.1,.1 2.6-2.1 .4-2-.5-2-2.1-2zM564,313.5l-2,.5-1.3,2-.8,4 .2,2 1.7,2 2.2,.5 2-.5 2-1.6 .8-2.4-1-4-1.8-1.8zM261.5,256l2.5-.3 2,1.1 .8,1.2 .5,2-.2,2-1.1,1.6-2-.8-2.1-2.8-.7-2z"/>
<path fill="#efff10" fill-rule="evenodd" d="M148,78l223.3,0 0,4 .7,2.7 2,2.6 2,.9 2,0 6-1.6 8-.3 4-.8 2.8-1.5 1.2-1.9 .1-4.1 381.9,0 0,314-634,0zM182,240.9l-1.8,1.1-1.3,2-.2,2 1.5,4 1.9,2 3.9,2.4 4,.3 2-.7 1.7-2 .2-2-1.1-4-1.2-2-3.6-2.9-4-.7zM450,141.4l-2,1.3-1.8,3.3-3.7,14-2.5,3.6-2,1.4-2,.7-4,.1-6-3.1-2-.4-8,3.7-10,1.5-4,2.6-4,3.5-6,6.8-2,.8-4-.8-4.1-2.4-3.8-4-4.1-7.8-1.9-2.2-4.1-2.1-2.1,.1-1.7,2-.5,2 .5,16-.9,6-3,6-2.3,2.2-2,1.1-4,.3-8-1.4-8,2.2-2-.1-2-1-6-5.3-2-1-10-1.5-6-1.7-4-.3-4,.8-18,6.6-6,1-10,.1-6,1.1-6,2.4-4.2,2.5-3.2,4-1.6,6-2.3,4-9.4,8-1.8,4-1.6,6-1.9,3.1-4,2-12.4,2.9-2.6,2-1.8,4 .1,4 1.5,2 9.1,4 6.1,3.4 2,.4 2-.3 2.1-1.5 5.9-11.9 2-1.2 2-.2 4.5,1.3 3.2,2 1.4,2 .1,2-.6,2-8.1,10-2.7,6-1.6,14-4.3,12 1.2,10 1.9,4 2.1,2 3.5,2 11.4,4.7 6,.4 3.8-1.1 2.2-1.4 2.1-2.6 1.7-6 1.6-18 2.2-14 1.6-4 2.8-1.3 10-1.1 4-1.7 4.7-3.9 3.3-6.1 2-2.4 2-1.3 2-.4 2,.7 2,3.6 .4,3.9-1.4,8 .3,2 5.5,8 .5,2-1.6,10-.1,4 .4,3 2,2.9 2,.1 2-1 4-3.8 2.3-3.2 3.1-8 1.6-2 7-4.4 4-1.9 4-.3 4,1.2 2.1,1.4 3.9,4.2 4,2.4 14,2.7 2-.1 2-1.6 .8-1.6 .9-4-.1-4-1-4-5-8-.4-4 .8-3.4 2-2.4 2-.1 10,6.2 4,.8 2-.2 2-1 2-3.3 .7-4.6 .3-10-.8-10 .5-4 3.3-7.2 2-2.7 2-.2 4,3.4 2,2.7 1.5,4 2.1,10 2,6 2.4,4.3 6,8.4 2,3.9 1.9,5.4 .5,4-.6,4-4.9,8-1.2,4 .3,11 2,2.8 2-1.1 6-10 2-1.7 4-1.1 6,1.2 10,6.5 6,2.8 10,3.3 4,.6 1.5-.3 2.2-2 1.4-4 3.3-4 15.6-9.1 4-1.2 4,0 2,.5 2.9,1.8 3.1,3.8 .6,2.2-.6,2.7-4.4,3.3-1.7,2-.7,4 .8,4 2,3.8 2,2.1 2,1.1 8,1.5 1.3,1.5 6.7,20.2 2,2.9 2,.8 2-.1 4-1.2 12.9-6.6 7.1-5.5 4-1 4-2 2.5-3.5 0-4-2.2-4-2.3-1.9-4-1-2,.8-4,6.7-2-.3-2.4-2.3-1.5-4 .7-2 4.5-6 .8-4-.4-8-1.9-6-1.8-3.3-2.3-2.7-15.7-11.4-4-4.1-4.1-6.5-3.3-10-2.6-4-4-2.8-18-8.3-2-.1-6.4,3.2-5.6,1.7-4,0-4-1-17.9-10.7-4.1-6.8-2-2.3-2-.7-8-.7-6.9-1.5-5.1-1.7-2.8-2.3-.9-2 .1-2 1.2-2 10.6-8 1.7-2 .8-2 .6-6 1.5-4 7.1-10 4.1-3.2 6-1.3 12-.2 13.3-3.3 8.7-1.3 10,1.1 10,3.1 2,.1 2.4-1-.1-2-2.3-4-4.5-10-3.5-2.7-4-1.7-8-2.3-10-.3-8-1.5-14,.8-10-1.2zM536,153.3l-2,1.1-1.2,1.6-2.3,6 .1,2 1.4,1.6 4,.9 3.3-.5 2.7-1.6 1.7-2.4 .4-2-.4-2-1.4-2-2.7-2z"/>
<path fill="#ffef00" fill-rule="evenodd" d="M148,78l220.8,0 0,4 1.2,4 2,2.5 2,1.5 2,.4 8-2.2 10-.9 4.7-1.3 2.5-2 .8-1.6 .1-4.4 379.9,0 0,314-634,0zM184,239.7l-4,1.6-1.8,2.7 .2,4 1.6,2.8 4,3.6 4,1.6 4-.1 3.6-1.9 .3-2-.5-2-2.9-6-1.9-2-2.6-1.6zM450,139.6l-2,.9-2,2.5-3.8,15-2.2,3.8-2,1.7-2,.9-4-.1-2-1.1-4-3.6-2-.5-6,4.7-2,.8-8,1.1-4,1.5-6,5-6,6.3-2,1.1-4-.3-5.1-3.3-2.9-4-2.9-6-3.1-3.7-4-2.1-2-.4-2,.4-1.1,1.8-.6,4 .8,16-.3,4-2.2,6-2.6,3-2,1.3-4,.3-6-1.5-2,0-6,1.8-4,0-2-1.1-6-5.1-2-.9-20-3.1-4,.8-10,3.9-8,2.4-20,1.5-8,2.8-6,3.7-3,4.2-2.2,8-1.4,2-7.4,6-1.6,2-3.4,10-1.2,2-3.8,2.4-10,2.2-4,1.6-2.1,1.8-1.2,2-1.9,6 0,2 2,2 9.2,3.1 8,5.2 4,.9 4-.1 2,.7 1.1,10.2-.2,8-1.1,4-3.4,6-1.1,4 .8,8 2.3,6 1.8,2 3.1,2 14.7,6 4,.5 4-.3 5.4-2.2 1.7-2 1.2-4 1.2-8 .9-12 3.6-17.1 2-2.1 10-2.2 6.4-2.6 2.8-2 4.8-6.6 2-1.5 2-.2 2.1,2.3 .2,4-1.6,6 1.5,4 3.8,4.6 1.7,3.4-.9,16 1.2,4.3 2,1.7 2-.3 2-1.3 4.6-4.4 7.9-12 7.5-5.2 4-1.6 4,.3 2,1 6,6.4 2,.8 8,.8 10,2.3 2-1.1 1.1-1.7 1.2-4 .3-4-.8-6-4.7-8-.5-4 .6-2 .8-1.2 2-.7 2,.6 6,3.9 4.1,1.4 3.9-.1 3.2-1.9 1.2-2 1-6 0-22 .6-2.3 2-3.5 2-2.1 2-.7 2,.7 2,1.8 2,3.3 4.7,16.8 3.3,6.1 6,9.2 2.7,6.7 .5,4-.8,4-5.2,8-1,4 .3,12 .3,2 1.2,2.7 2,.1 2-1.4 2-2.9 3.3-6.5 2.7-3.2 2-1.1 4-.4 4,1 10,6.4 6,2.8 12,4.7 4,.4 2-.7 1.8-1.9 1.6-6 3.1-4 5.5-3.7 6-3.2 4-1.3 4-.3 2.4,.5 3,2 1.5,2 .5,2-1.2,2-2.2,1.9-2,4.1 0,4.6 2,6.2 2,3.2 2,1.9 2,.9 6,1.2 2,1.7 5.5,12.3 2.1,8 1.6,2 2.8,.9 4-.7 19-8.2 11-6.1 3.7-3.9 .6-2-.3-4-2-4-2-2.1-4-2.5-3.9-1.4-1.8-2-1.2-14-1.1-4.4-2-4.5-2.3-3.1-2.2-2-13.5-9-4-3.4-4.9-7.6-3.9-12-3.2-3.5-4-2.4-9-4.1-11-6.6-2,1.2-3.3,3.4-3.7,2-5,.9-4.5-.9-4.1-2-13.4-8.6-2.7-3.4-3.3-7.3-2-.6-8,.7-6-1-8-2.9-1.2-.9-1.2-2 .1-2 1.3-2 10.9-8 1.6-2 .6-2 .4-6 1.6-4 7.5-10 4.4-2.8 6-.9 12,.3 10-3.3 10-1.7 8,.8 14,4.9 6-.4 4-2 6,1.3 6-.1 4-1.2 2-1.3 5-7.6-1.6-2-7.4-3.9-4-.7-2,.8-2,2.1-6,10.9-2,.1-6-5.3-2-3-3.1-7-1.9-2-5-2.7-10-3.9-18-1.4-14,1.4zM237,252l1-1.2 2-.6 3.2,1.8 1,2-.2,2-2,2.8-4,3-2,.7-.8-2.5 .1-2 .7-4z"/>
<path fill="#ffcf00" fill-rule="evenodd" d="M148,78l218.5,0 0,4 1.4,4 4.1,4.8 2,1 2,.3 10-3 10-1 4-1.3 3.3-2.8 .7-2 0-4 378,0 0,314-634,0zM486,138l-8,.4-12,1.9-5.5-.3-8.5-1.9-4,.5-2,1.6-.9,1.8-3.3,14-1.8,3.8-2,2.2-2,1-2,.2-2-.6-6-5.9-2-.4-2,1.4-4,4.3-2,1.2-8,1.4-4.1,1.4-11.9,10.8-2,1.3-2,.4-4-1.2-3.8-3.3-4.2-8.5-4-4.6-6-3.2-4-.2-1,2.5 .3,14 .7,8-.3,4-2.3,6-3.4,3.1-4,.5-6-1.6-2,0-8,2-2-.4-2-1.2-4-3.6-4-2.2-8-.6-10-2.1-6,.8-10,3.9-6,1.7-6,.8-12,.2-6,1.1-8.6,3.6-5.5,4-2.3,4-2.1,8-1.4,2-6.1,5-2,2.3-3.8,10.7-2.2,2.6-2.8,1.4-11.2,2.6-3.1,1.4-2.1,2-2.8,4.8-2,2.2-2,.4-2-.9-6.4-8.5-3.2-2-2.4-.7-4,.2-2,.9-1.7,1.6-.9,2 .2,4 2.5,4 5.9,4.7 4,1.1 8-.3 8,2.6 6,.2 2,.5 8,5.2 8,3.5 1.8,2.5 .8,2 .9,6-.9,6-4.7,8-1,4 .8,8 2.2,6 4.3,4 14.1,6 5.7,1.6 6,0 7.1-1.6 1.8-2 2.8-26 2.5-12 1.3-4 2.5-2.3 12-3.3 10-4.5 1.6,2.1 1.3,4 1.3,2 5.2,6 1,2 .4,4-.8,8 0,6 1.4,4 2.6,1.9 2-.5 6-5.5 10-12.5 10-6 2-.3 2.7,.9 2.1,2 1.6,4 .1,2-4.5,2.7-2,2.4-1,2.9-.1,4 .8,2 2.3,1.5 2-.8 2-2.7 1-4 .2-6 .8-1 4-1.3 6-.5 4.9,.8 7.1,2.6 2-.7 2-3 .8-2.9 .6-8-1-6-3.6-6-.7-2 .2-2 1.7-1.7 2,.3 6.2,3.4 5.8,1.1 4-.9 2-1.7 1.2-2.5 .7-4 .2-20 .5-4 1.4-3 2-2 2-.7 2,.5 2.7,3.2 5.3,16.4 4,7.9 6,9.8 1.9,5.9-.2,4-.7,2-4.3,6-1.6,4 .1,18 .8,3.5 2,.6 4-2.5 8-13 2-1.4 4-.7 4,1 10,6.3 16,7.4 4,1.3 4-.4 2-1.3 2-2.8 1.3-6 3-4 7.7-4.8 4-1.3 4-.2 2,.7 1.7,1.6 .3,2-1.1,6 0,6 .9,4 2.2,5.3 2,3.1 2,1.5 7.1,2.1 2.9,2.8 4.8,9.2 1.7,8 1.5,2.8 2,1 4-.1 12-4.9 10-2.6 6-3.3 8-6.4 1.4-2.5 .5-2-.5-4-1.4-3.1-2.2-2.9-8.2-6-1.4-2-1-4-1.2-10.4-2.9-7.6-3.4-4-15.7-10.2-4-3.6-3.6-6.2-2.6-10-2.4-4-5.2-4-8.6-4-6.2-4-3.5-4-1.9-6.7-2-2.5-2,.2-2,2.6-.7,8.4-.9,2-2,2-2.4,1.2-2,.5-4-.2-6-2.6-13-8.9-2.6-4-2.4-8.3-2-1.6-6,3.1-6,.4-10-3-2.8-2.6 0-2 1.3-2 11.5-8.2 1.2-1.8 .6-8 1.7-4 6.5-8.7 4-3 4-1 4-.1 10,1.2 11.1-4.4 6.9-1.4 4-.2 8,1.5 10,4.6 10,1.5 6-1.4 10-1.2 4-1.3 6.1-6.1 5.4-4 1.5-2-.1-2-2.9-1.6-8,.4-7.4-2.8-2.6-.3-2,.7-2,1.6-4,6.5-2,2.3-2,.7-2-.5-4-3.3-3.7-7.7-1.6-2-2.7-1.9-16-8-4-.4zM722,205.9l2,2.2 2-1 .7-1.1-.7-.7-2-.3z"/>
<path fill="#ffaf00" fill-rule="evenodd" d="M148,78l216.4,0 .5,6 2.2,4 4.9,4.5 4,1 10-3.2 10-1.2 6-1.9 1.7-1.2 1.4-2 .5-6 376.4,0 0,314-634,0zM484,135.6l-18,3.7-4-.1-10-2.4-4,.2-2,1.1-2,3.3-2.6,12.6-1.4,3.6-2,2.7-2,1.1-2,.2-2-.8-6-6.5-2-.3-2,1.3-3.8,4.7-2.2,1.8-12,3-4,2.9-8,7.5-2,1.5-2,.6-4-1.1-2.6-2.2-5.4-10.3-4-4.2-8-4.7-4-1.3-2,.2-.7,.3-.4,2 1.9,4 1,4 1.1,20-1.5,6-1.4,2.2-2,1.7-4,.5-6-1.7-2,0-8,1.9-2-.5-6-4.6-4-2.1-8-.5-10-1.8-6,.8-10,3.9-6,1.5-4,.3-10-.5-10,1.8-10,4.4-5.6,4.7-2.1,4-1.9,8-1.5,2-7,6-1.9,3.7-2,6.8-2.4,3.5-4.3,2-11.3,2.6-2.5,1.4-5.5,6.2-2,.5-2-.7-5.4-6-2.6-1.9-4-1.4-4,.1-2.7,1.2-1.9,2-.7,2 .2,4 3.1,4.9 4,3.8 4,2.7 10,1 3.3,1.6 4.7,3.5 2,.2 6-.7 11.6,5 3,2 2.2,4 .7,6-1.1,4-4.9,8-.9,6 .7,6 1.2,4 3.5,4.8 6,3.7 14,5.4 6,1 14,.6 2-.3 1.1-1.2-1.7-6-.3-6 1.8-18 3.4-14 1.3-2 2.4-1.5 14-4.2 4-.2 2,1.2 7.9,8.7 1.2,2 .7,4-.8,12 .3,4 1.9,4 2.8,1.8 2-.7 2-1.7 14-15.5 10-5.2 2-.2 1.5,1.5-.5,2-3,5.2-1,4.8 .4,6 1,2 1.6,1.6 2.4,.4 1.6-.6 2-1.7 2.1-3.7 2.2-8 1.6-2 2.1-1.1 6-.6 4,1.1 6,3.4 2-.4 2-2.5 .7-1.9 1-4 .6-6-.5-8-2.4-6-.2-2 .8-.5 6,2 6,.6 4-.9 2-1.4 1.3-1.8 1.1-4 1-24 .6-2 1.6-2 2.4-1.1 2,.5 2.2,2.6 5.8,16.4 4,8.3 5.5,9.3 1.2,4 .1,2-.8,3.1-4.9,6.9-1.4,4 .3,12-2.1,16 .1,2.8 2-.3 1.2-2.5 1.7-2 5.1-4.4 2.7-3.6 5.3-9.6 2-1.7 1.8-.7 2.2-.2 4,1 14,8.1 14,6.6 4,.8 4-1.4 2-1.9 1.5-3 1.4-6 3-4 6.1-3.6 4-.9 2,.3 2.6,2.2 1.6,14 3.8,10.2 2,2.8 2,1 6,1.4 2,1.4 2,2.3 4,6.9 1.8,10 1.4,2 2.8,1 2,0 4-1 10-4 12-1.8 4-2.4 8-7 2-2.4 1.3-4.4-.5-4-1.9-4-1.6-2-7.2-6-2.1-2.4-1.3-3.6-2.1-14-3-6-4.3-4-15.3-9.4-2.9-2.6-3.5-6-1.9-10-2.5-4-5.2-4.2-11.4-5.8-4.6-3.8-2.5-4.2-1.5-6-1.1-2-2.7-2-2.2,.2-2,1.5-1.6,2.3-1.2,4-.2,6-.8,2-2.6,2-3.6,.5-4-1-4-2.1-12-9.1-2-3.3-2-8.1-2-4-2-.6-6,5.3-4,1-6-1-4.2-1.6-2.5-2-.3-2 1.4-2 11.6-8 1.1-2 0-6 .8-4 6.1-8.8 4-3.6 4-1.3 4-.1 10,2.2 2-.3 6-3.8 4-1.6 6-1.3 4-.2 6,1.1 8,4.2 4,1.5 8,2.2 4,.3 7-2.5 9-1.2 4-1.5 6-6.2 6-4.6 1.7-2.5 .2-2-1.1-2-2.8-1.3-10,.1-8-2.5-2-.1-2,.4-2.1,1.4-5.9,8.2-2,.9-2-.2-3.4-2.9-2.9-6-1.7-2.3-9.6-5.7-8.4-6.1-4-1.5-2-.2zM566,205.8l-2,.6-1.7,1.6-.3,2 2,3.5 4,4.1 2,1 2-.8 2-2.2 .7-1.6-.1-2-.8-2-1.8-2.2-3.5-1.8zM608,141.6l-1.6,.4-.1,2 3.7,.8 3.4-.8-.9-2zM722,203.5l-1.3,.5-1.3,2 .7,2 1.9,1.4 2,.5 2-.5 2-1.4 1.2-2-.6-2-.6-.3zM200,273.9l-5.1,2.1-1.2,2 .3,3 2,4.9 2,2.5 2,.4 2-.8 2-2.3 1.5-3.7 .1-2-.8-4-.8-1.5-2-.8z"/>
<path fill="#ff8f00" fill-rule="evenodd" d="M148,78l214.4,0 .4,6 2.3,4 4,4 2.9,2 4,.8 3.5-.8 6.5-2.6 12-1.6 5.3-1.8 2.5-2 1-2 .4-6 374.8,0 0,314-634,0zM488,131.6l-10,3.9-12,2.7-4-.1-10-2.5-5.1,.4-2.5,2-1.1,2-3.3,15-2,3.4-2,1.4-2,.1-2-1.1-4-5-2-1.5-2-.2-2,1.1-6,7.1-2,1.1-8,1.6-2.6,1-3.4,2.5-8,7.3-4,2.2-2-.1-2-.8-2-1.8-6-11.2-2-2.2-6-4.8-4-2.6-4-1.4-4,.1-1.9,.8-1,2 .7,2 3.2,4 1.7,4 1,20-1.7,6.2-2,2.2-2,.8-2-.1-6-1.8-2,0-8,1.9-2-.5-6-4.6-4-1.9-8-.3-8-1.4-4-.2-4,.7-10,4-6,1.3-4,0-8-1.7-4,.4-8,2-8,3.8-6,3.9-3,3.3-1.9,4-1.1,6-.8,2-1.6,2-6.8,6-3.4,10-1,2-2,2-4.4,1.8-10.5,2.2-3.5,2-4,4-2,.7-2-.7-6.9-6-5.1-1.9-4,.1-2,.6-1.9,1.2-1.5,2-.8,4 1.1,4 9.1,10.5 2,1.5 2,.5 6,0 2.8,1.5 1.3,2-.2,2-1.9,2-6,2-2.3,2-.4,2 .7,4 4,9.8 2,2.3 2,1 2,.3 3.7-1.4 3.7-4 2.7-4 .5-2 0-8 1.4-2.8 2-1.3 2-.3 4,.7 4,1.5 2,1.3 2,2.3 1.3,4.6-.6,4-4.9,8-1.1,6 .3,8 1.3,4 2.4,4 2.2,2 5.1,3 14,5.7 14,1.9 10,2.1 3-.7 1.9-2 0-2-3.6-6-1-6 1.4-16 3.3-14 1-2 2-2 2-1 10-2.9 4-.4 2,.7 2,1.4 6,5.7 2,2.9 1,5.6-.8,14 1.4,4 2.4,2.8 2,.7 2-.7 16-16.4 4-1.9 2,.3 .8,1.2 .6,10 1.1,4 1.5,2.6 2,1.5 2,.2 2-.7 2-1.4 1.7-2.2 2-4 2.3-6.9 3.1-3.1 2.9-.7 4.9,.7 3.3,2 3.8,3.8 2-.1 2-2.5 2.3-7.2 1-18 .7-1.9 2-.7 6-.3 4-.9 2-1.2 2-2.6 1.1-4.4 1.1-22 1.8-3.8 2-.9 2,.7 2,2.4 8,20.8 6,10.8 1.4,4-.4,4-.9,2-4.7,6-.8,2-.3,2 .7,8-.3,6-2.9,12-.4,4-.1,12 .7,2.6 2.2-.6 6.1-16 5.7-6.9 6-10.8 2.6-2.3 3.4-.9 4,1 8,4.9 18,9.1 6,1.7 4-1.2 2.9-2.6 2-4 1.5-6 3.2-4 4.4-2.4 4-.3 2,1 1.1,1.7 2.2,12 4.6,14 2.1,1.7 8,1.6 4,3.6 2.2,3.1 1.7,4 .5,8 .7,2 .9,1 2,.9 4,.2 14-4.9 4-.2 6,.9 4-.8 12.8-13.1 1.8-4-.3-6-3.5-6-8.6-8-1.4-2-1.2-4-1.5-12-2.6-6-3.8-4-9.7-6.4-6.8-3.6-3.2-2.6-3-5.4-1.3-10-2.5-4-4.9-4-11.2-6-4.9-4-2.6-4-2.5-8-1.5-2-1.6-1.2-2-.7-2,.2-2.6,1.7-1.7,2-2,4-1,8-.7,1.2-2,1.5-2,.2-4-1-4-2.1-10-7.8-2.6-4-3.4-12-2-2.2-2-.5-2,1-4,5.4-4,1.7-6-1.1-4.1-2.3-.6-2 1.2-2 3.5-2.6 6.4-3.4 2-2 .6-2-.1-8 .7-2 6.4-9.3 4-2.8 6-.7 3.6,.8 4.4,1.9 2,.4 2-.2 5.5-4.1 3.8-2 4.7-1.4 6-.5 6,1.4 8,4.6 14,4.9 2,.2 8-3.5 10-1.2 2-.6 2-1.4 5.8-6.5 5.1-4 3-4 .6-2-.5-2-2.3-2-3.7-1-10,.2-10-2.5-2,.3-2.1,1-2,2-3.9,5.7-2,1.2-2-.2-2-1.5-3.9-7.2-2.1-2-8-4.4-10-8.3-4-1.7zM566,203.9l-2,.3-3.3,1.8-1.2,2-.2,2 .7,2.3 6,9.4 2,2.1 2,.5 2-.6 6.2-5.7 1.7-2 .2-2-2.8-4-4.3-4-3-1.4zM606,139.5l-2,.6-2,1.9 .4,2 3.1,2 4.5,.8 4-.3 1.8-.5 2.9-2 .2-2-4-2-4.9-.7zM718,203.9l-.6,2.1 .7,2 1.9,2 4,1.2 3.4-1.2 2.2-2 1.4-2 .3-2-1.3-1.3-4-.6-6,.6zM734,227.8l-2,2.2-.9,4 .9,3.1 2,.2 2-.8 2.8-2.5 1-2 .1-2-1.9-2.2-2-.4zM556,349.8l-1.9,4.2 .1,2 1.8,2.9 2,.5 2-.5 1.1-.9 1.1-2-.2-4.7-2-2.8-2-.1z"/>
<path fill="#ff7000" fill-rule="evenodd" d="M148,78l212.3,0 .3,6 2.2,4 7.2,6.2 4,1.6 2,.1 4-.9 6-2.5 14-2.1 6-2.3 1.8-2.1 .7-2 .2-6 373.3,0 0,314-634,0 0-72.3 4-.1 2.3-1.6-.3-2-2-.6-4,0zM488,129.3l-9.6,4.7-10.4,2.9-6,0-12-2.6-4,.7-2,1.5-1,1.5-1.3,4-1.8,10-1.9,4.3-2,1.7-2,0-2-1.4-4-4.8-2-1.3-2-.1-2.7,1.6-4.6,6-2.5,2-8.2,2-4,1.7-10,8.8-4,2.2-2,0-1.7-.7-2.2-2-6.1-11.4-10-9.1-2.8-1.5-3.2-.8-4,.1-2.7,.7-2.4,2-.3,2 .9,2 5.2,6 .8,2 .6,4-.4,8 .4,10-1.8,4-2.3,1.5-2,0-6-1.9-2,0-8,2.1-2-.6-6-4.4-4-2-8-.1-10-1.1-6,.6-10,4-4,1-6-.2-6-2.2-4-.5-8,1.9-6,2.6-10,6.5-4,4.3-2.1,4.5-1,6-.9,2-8,7.6-3.4,10.4-1.1,2-2.4,2-5.1,1.7-10,2-6,4.4-2,.7-2-.5-8-5.6-4-1.2-4,0-2,.5-2,1.1-2,2.3-.9,2.6 .2,4 2,4 5.1,6 2.3,4 1,4-.5,6 .5,4 6.3,15 2.5,3 3.5,1.7 4,.2 2-.7 2-1.4 7.9-7.8 1.4-2-.1-6 .8-3 2-1.3 4,.3 2.9,2 1.2,2 .3,2-.4,2.4-3.9,5.6-.7,2-1,10 .3,6 1.4,4 2.2,4 2,2 3.7,2.5 14,6.5 6,1.5 10,1.1 8,2.9 4,.4 3.9-.9 2.1-1.3 1.6-2.7-.4-2-5.1-8-.6-4 1.4-16 2.1-10 1.4-4 1.6-2.3 4-2.3 8-2.1 4,0 4,2.3 4,3.5 2.6,2.9 .9,2 .6,6-.9,12 1.1,4 3.1,4 2.6,1 2-.6 8-8.7 6-5.2 4-2.4 2,.5 .7,1.4 1.6,8 1.7,4.7 2,2.8 2,1 2,0 4-2.2 2.1-2.3 2.4-4 2.9-8 2.6-2.8 4-.8 4,1.5 6,7.6 2-.3 2-2.4 2-4.7 1-4.1 1.4-16 1.2-4 2.4-1.3 6-1 4-1.6 2-2 1-2.1 .8-4 1.4-20 .8-2.6 2-1.6 2,.6 2,2.6 8,21.3 4.4,7.7 1.6,4-.4,4-6,8-.7,2 1,10-.1,4-1.1,6-2.7,8.8-.9,17.2 .4,2 1.6,2 .9,.6 2-.3 1.9-2.3 5.2-16 6.9-10 4-7.6 2-2.4 2-1.1 2-.4 4,1 10,5.9 16,8.2 4,1.5 2,.2 4-1.1 4-3.6 2-4.2 1.8-6.4 1.3-2 2.9-2.3 4-1.1 2,.6 2.2,2.8 4.6,18 1.4,8 1.8,1.7 6,.3 4,1.1 4,3.4 2,2.8 1.1,2.7 .4,4-.4,4 .9,3.2 2,1.4 4,.7 4-.7 10-3.8 4-.2 2,.4 1.8,1 .9,2-2.1,8 .5,4 .9,1.8 2,1.4 2,.4 4-1 2-1.7 1-2.9-.4-8 .5-4 4.2-8 7.5-8 .9-2 .5-4-.4-4-1.8-4-3.5-4-6.5-6-2-2.9-1.4-5.1-.9-10-1.3-4-2.5-4-3.9-3.4-10-6.6-6-3-3.6-3-1.2-2-1.3-4-.2-8-.8-2-1.6-2-5.1-4-10.6-6-5.1-4-2.8-4-2.8-8-3.3-4-3.6-1.4-2,.2-2.4,1.2-2.1,2-2.6,4-2.9,9.1-2,1.5-2-.1-4-1.4-4-2.3-7.5-6.8-2.1-4-2.7-10-1.7-3.2-2-1.6-4-.9-2,1.5-1.4,4.2-1.2,2-3.4,2.1-2.5-.1-3.5-1.3-1.1-.7-1.1-2 1.1-2 2.6-2 8.5-3.1 .9-.9 .3-4-.6-6 1-4 5.1-8 3.3-2.7 2-.7 4-.2 8,3.2 4,.2 2-1 5.7-4.8 2.3-1.2 6-1.6 4-.1 4.4,.9 7.6,4.8 9.5,3.2 6.5,3.3 2,.6 2-.1 6-3.8 2-.6 8-.1 4-1.4 2-1.8 4.3-6.1 8.6-8 2.4-4 .4-2-1.4-2-4.3-1.8-4-.6-10,.1-10-2.5-4.1,.8-2.5,2-3.4,4.7-1.5,1.3-2.5,.1-2-2.4-1.8-3.7-2-2-10.2-5.9-8-7.7-6-3.1zM534,117.4l-.9,2.6 .3,2 .6,.9 2,.2 1-1.1 .5-2-1.5-3zM606,137.8l-4,1-2,1.2-.9,2 .5,2 2.2,2 4.2,1.4 4,.7 4,0 10-3.7 8,.7 2.1-1.1-.1-2.7-2-2-2-.3-6,.7-10-1.7zM718,201.8l-2.4,2.2-.2,2 .8,2 1.8,2.1 4,2.2 4-.3 2-1.1 3.1-2.9 2.4-4-.3-2-1.2-.6-10-.1zM734,225.8l-2,1.1-2,3.1-3.5,12 .8,2 .7,.3 10-6.9 3.2-3.4 1-2-.2-3.2-2-2.3-2-.8zM178,343.6l-2,1.5-1.2,2.9 .5,6-.6,8 1.3,2.9 2,1.3 2,.3 2-.3 2-1.3 1.3-2.9-.5-8 .5-6-.6-2-2-2-2.7-.7zM234,335.6l-2,.5-2.3,1.9-.5,2 .6,2 3.3,2 3.6,0 2.9-2 .5-2-.6-2-2.2-2zM320,341.9l-2,.3-1.6,1.8 .9,2 .7,.4 2,.4 2-.4 .7-.4 .7-2-1.4-1.4zM562,203.2l-2,1.1-2,2.4-.7,3.3 .3,2 8.4,13.3 2,1.3 2,.3 2-.4 2-1.2 8-7.3 1.6-2 .1-2-1.5-2-6.2-5.8-3.7-2.2-6.3-1.4z"/>
<path fill="#ff5000" fill-rule="evenodd" d="M148,78l210.3,0 .3,6 1.8,4 4.5,4 5.1,3.5 2,.9 4,.6 4-.8 8-3.1 14-2 6-2.3 1.8-2.8 .4-8 371.8,0 0,314-634,0 0-68.8 4,0 2.9-1.2 3.9-4 .7-2-1.2-2-2.3-1.1-3.9-.9-4.1,0zM422,93.7l-1.5,.3-.5,2.1 2,1.9 2,.6 2.4-.6 .7-2-1.1-1.4-2-.9zM488,127.2l-10,5.6-10,2.9-6,0-12-2.5-4,.5-2,1.2-2.2,3.1-3.1,14-.7,1.7-2,2.1-2,.1-6-5.9-2-1.1-2-.2-2,.9-2,1.9-4,5.5-2,1.7-12,3.9-10,8.6-4,2.2-2,0-2.5-1.4-1.5-1.9-3.9-8.1-2.1-2.9-8-8.4-2-1.4-6-1.8-4,.1-4,1-2.2,1.4-1.3,2-.1,2 1.1,2 5.8,6 1.1,2 .6,4-.7,8 0,10-.9,2-1.4,1.2-2,.2-6-1.9-10,2.6-2-.6-8-5.5-4-1.2-6,.4-14-.4-4,.9-8,3.4-4,1.1-4.1-.2-7.9-3.2-4-.6-6,.8-6,2.4-12,8.3-4.2,4.3-2.5,4-1.7,8-1,2-6.9,6-1.1,2-2.8,10-1.3,2-2.5,1.8-4,1.3-10,1.6-8,4.3-2-.3-8-4.7-4-1.1-6,.4-2,.8-2.1,1.9-1.7,4 .2,4 1.9,4 5.9,8 1,4-1,10 1.4,4 6.6,14 3.8,4.1 4,1.5 4,.5 4-1 6-5.2 2-1.1 2-.2 1.6,1.4 .6,2-.4,10 1.2,4 3,6.1 4,3.8 16,9.1 16,1.5 10,4 4,.2 4-.9 3.6-1.8 1.6-2 .4-2-1.6-4-4.4-6-.9-4 1.3-16 2.8-12 2.8-4 2.4-1.4 6-1.8 4-.4 2,.4 4,2.4 4,3.4 2.4,3.4 .9,6-1.1,10 .2,4 1.6,3.9 2,2.6 2,1.5 2,.5 2-.6 10-10.6 6-3.7 2,.1 1.5,2.3 2.5,7.9 2,4.3 2,2.3 2,.6 2-.4 4-2.4 2.3-2.3 3.7-6 3.3-8 2.7-2.1 3.3,.1 2.7,1.8 3.3,6.2 2.7,2.4 2-.3 2-1.9 2.1-4.2 1.6-6 1.5-16 1.1-4 2.3-2 9.4-2.8 3.1-3.2 1.2-4 1.6-20 2.1-3.5 2,.4 2,2.7 8,22 4.4,8.4-.4,4-6.4,8-.7,2 1.6,8 .1,6-3.9,14-.1,10-1.1,8 .5,3.2 2,2.7 2,1 2,0 2-1.5 2-4.4 3.2-11 1.6-4 5.2-8 4-7.4 2-2.7 2-1.4 2-.4 4,1 26,14 4,1.6 2,.2 4-1.1 4-3.3 2.6-4.5 1.7-6 1.7-3.1 2-1.8 2-.8 2-.1 2.5,1.8 1.5,3.7 3.7,14.3 1,10 1.3,1.6 2,.6 8-.2 4,2 2,2 2,3.4 .6,2.6-.9,8 .8,2 3.5,1.9 4,.5 4-.7 10-3.7 4,.6 1.6,1.4 .3,2-.7,6 .4,4 .7,2 1.7,2.2 4,1.3 10-1.3 2,.8 4.1,3 3.9,1 4,.2 3.6-1.2 .1-2-1.7-1-2.2-1-11.8-2.1-2-2.9-.7-7 1.6-8 2.9-6 5.9-6 1.1-2 .8-4 0-4-.8-4-1-2-10-10-2.7-4-1.1-4-.6-10-1.3-4-2.3-4-4.2-4-11.6-7.7-6-2.9-2-1.7-2.1-3.7-.3-10-1.6-3.3-5.8-4.7-10-6-5.2-4-3-4-4.3-10-3.7-3.3-2-1-4-.3-4,2.2-3.6,4.4-4.4,8.1-2,1.5-4-.5-5.1-3.1-5.8-6-1.9-4-3.2-11.2-2-2.7-5.4-4.1-.9-2-.7-4 .4-4 .7-2 3.2-6 2.7-3 2-1 4-.3 8,3.5 4,.1 2.7-1.3 7.2-6 6.1-1.9 4-.1 4,1.2 8,5.3 8,2.4 10,5.6 4,0 6-3.5 2-.4 6,1 2-.3 2-.9 2.7-2.4 6.2-10 11.1-10.9 5.3-3.1 1.1-2-2.4-2.2-14-1.4-12,0-12-2.9-4,1.2-6,5.6-2-.8-3-3.5-11.3-6-5.7-6.2-6-4.7-4-1.9zM534,113.2l-2.5,2.8-1,4 .7,4 .8,1.5 2,1.1 2-.3 2-1.3 2-3 .1-2-.4-2-1.7-3.2-2-1.6zM600,137.4l-2,.7-1.8,1.9 .1,2 .8,2 2.9,2.6 6,1.9 8,.8 10-2.8 10,.9 2-1.2 .8-2.2-.8-4.4-2-2.3-2-.7-10,.5-14-.8zM730,199.9l-12,.4-2,.5-1.5,1.2-1,2-.2,2 .7,2 1.6,2 4.4,2.9 4,.8 2-.4 4.6-3.3 4.9-6 .5-2-.9-2-1.1-.5zM176,341.8l-2.4,2.2-1.5,4 .4,8-.3,6 .4,2 1,2 2.4,1.9 2,.7 4,0 2-.7 2-1.5 1.4-2.4 .6-16-1.7-4-2.3-2-4-1.2zM236,331.9l-4,.9-4,2.4-1.6,2.8-.3,2 .3,2 1.6,2.4 2.4,1.6 3.6,1.1 2,0 4-1.2 2.2-1.9 .9-2-.1-4-1.4-4-1.6-1.7zM318,339.6l-2,.7-2,1.7-.8,2 .8,2.7 1.4,1.3 2.6,1 4,.1 2.7-1.1 1.8-2 .4-2-.8-2-3.4-2zM510,355.8l-2,.5-1.9,1.7-.4,2 .4,2 1.9,1.9 2,.3 2-.5 1.5-1.7 .4-2-.5-2-1.4-1.6zM562,201.8l-4,2.1-1.5,2.1-.8,2 0,4 8.3,13.6 2,2.1 2,1 4-.1 4-2.5 4-4.1 5-4 1.4-2 0-2-1.4-2-9.9-8-7.1-2.4zM732,224.9l-1.5,1.1-1.4,2-2.8,8-3.3,6-.3,2 .8,2 2.5,2.1 2,.6 2-.4 5-6.3 6.7-6 2.8-4 .3-2-.5-2-1.6-2-2.7-1.3-4-.7zM439.7,204l4.3-1.7 2,.7 .5,1-.2,2-2.3,2.2-3.2-.2-2-2z"/>
<path fill="#ff3000" fill-rule="evenodd" d="M148,78l208.4,0 .6,8 2.5,4 10.5,6.8 6,1.3 4-.7 8.7-3.4 21.3-3.2 1.3-.8 .4-2 0-10 370.3,0 0,314-634,0 0-66.4 4,0 3.7-1.6 7.8-8-.3-2-3.2-2-6-1.9-6-.2zM406,135.7l-2,2.1-.3,2.2 .3,2.1 2,1.1 1.4-1.2 .8-2-.2-2.7zM418,91.9l-2,.7-.6,1.4 1.2,2 2.2,2 3.2,1.9 4,.6 2-.9 1.2-1.6 .4-2-1.6-2.5-4-1.5zM488,125.4l-2,.7-8,5.5-10,3-6-.1-12-2.4-4,.4-2,.9-2,1.9-1.4,2.7-2.5,12-2.1,3.3-2,.3-6-5.3-2-1-2-.1-2,.7-2.4,2.1-5.6,7.2-2,1.2-10,3.1-10,8.4-4,2.2-2,0-2-1.2-2-2.8-4.1-8.1-7.9-10-2-1.9-4-1.7-4-.5-6,.5-4,1.3-2.7,2.3-.8,2 0,2 1,2 6.5,6.2 1.1,1.8 .9,4-1.9,16-2.1,2-6-.9-8,3-2,.2-4-1.7-6-4.3-4-1.5-8,1-14,.3-4,1.1-6,2.9-4,.9-4-.4-8-3.3-6-.9-4,.4-6,2.3-12,9.1-5.5,5.8-2.4,4-2.1,8.6-1,1.4-5.2,4-1.7,2-2.3,10-1.8,3.4-2,1.6-4,1.6-12,1.5-6,3-2,0-10-4.4-4-.6-6,1-3.3,2.9-1.4,4 0,4 1.7,4 4.8,6 1.5,4 0,4-1.4,6 .2,4 4.4,8 3.6,8 1.9,3 2,1.8 6,2.5 8,.8 2-.4 4-1.9 1.2,.2 .8,1 .2,3 1.3,4 5.2,10 1.9,2 10.2,6 1.9,2 0,2-6.7,4.1-2,2-1.9,5.9 .8,4 1.7,2 3.4,2.1 4,1.2 4-.4 4-1.8 2.9-3.1 .5-2-.4-10 2-2 5-.9 6,.5 8,4.1 4,.8 8-1.7 4.3-2.8 1-2-.3-4-5-6.6-1.7-3.4-.5-4 .7-8 1.4-10 2.2-8 1.2-2 2.4-2 4.3-1.7 4-.7 4,.7 6,4 3.2,3.7 .9,2 .4,4-1.4,10 .1,4 2.8,5.9 2,2.3 2,1.3 2,.3 2-.6 2-1.6 4.3-5.6 3.7-3.4 4-2.1 2-.2 2.2,1.7 5.8,14.4 2,1.5 2,0 4-2.1 4.3-3.8 4.2-6 3.7-8 1.8-2.1 2-.4 2,.8 4,7 2,2.3 2,1 2-.1 2-1.6 1.8-2.9 2.2-6 1.1-6 .7-12 1-4 1.3-2 1.9-1.2 8.5-2.8 2.4-2 1.1-1.8 1.1-4.2 1.2-16 1.7-4.5 2,0 2,2.8 2,4.7 4.7,15 4,8 .1,2-.6,2-1.4,2-5.7,6-.5,2 2.5,8 .4,4-.5,4-3.7,12 .1,10-1.3,10 1.8,4 2.1,1.9 2,1 2,.3 2-.9 1.7-2.3 6.3-19 8-14 2-3 2-1.6 2-.6 4,1 16,8.9 12,5.9 4,.9 4-1 4-3.2 2.9-4.3 2.8-8 1.1-2 3.2-2.1 2,.1 2,2 .8,2 3.5,12 .6,4-.2,8 .8,2 2.5,1.9 1,.1 9-.4 4.4,2.4 1.8,2 1.4,4-1.4,8 .3,2 1.5,1.7 4,1.4 4,.4 4-.6 8-3.2 4,.1 1.9,2.2 .1,8 .7,4 1.3,2.5 2,1.8 4,1 8-.4 12,3.6 4,.1 4-.6 2.5-2 0-2-.5-.5-2-1.6-12.8-3.9-2.3-2-.9-2 0-6 2-8 2-3.4 5.1-4.6 1.2-2 .9-4-.1-8-1.1-4-1.3-2-9-8-3-4-1.2-4-.4-10-1.3-4-2.2-4-3.7-4-6.6-4-7.3-5.4-5.1-2.6-2.1-2-1.5-4 0-8-1.9-4-7.4-5.6-10.3-6.4-2.2-2-3-4-4.7-10-4.4-4-5.4-2-4,.8-4.2,3.2-7.8,10-2,.9-4-.9-2.9-2-5.3-6-1.8-4.1-2.6-9.9-1.4-2.8-5-5.2-1-4 2.7-10 1-2 2.3-2.1 4-.4 8,3.3 4,0 4-2 6-5.5 4-1.7 4-.6 4.9,1 8.3,6 8.8,2.4 10,6.7 4,.6 6-1.1 6,.2 4-.7 4-2.5 3.3-3.6 3.3-8 2.8-4 8.6-8.2 8.1-3.8 1.9-1.8 .5-2.2-.5-2-2-2-2-.6-28-.3-14-3.7-2,.3-6,3.2-2-.1-8-2.6-4.5-2.2-7.5-8.1-8-5.8-4-1zM532,111.8l-2.8,4.2-.6,2-.1,4 1.5,5.1 2,2 2,.1 2-.6 4-3 2-3.6 0-2-1.2-4-2.8-4.2-2-1.4-2,0zM590,134l-2,.1-1.7,1.9 .7,2 5,3.1 4.1,4.9 3.4,2 2.5,.7 10,1.7 4-.3 8-2.1 4,.2 6,1.3 2-.4 1.3-1.1 1-2 .2-4-1.3-4-1.6-2-3.6-1.6-10,.8-14-.4-12,.7zM734,197.4l-8,2.1-10-.5-2,.9-2.6,4.1-.3,4 1.5,2 7.4,4.2 4,.9 2-.4 4-2.9 7.4-7.8 .7-2-.1-2.2-2-2.4zM176,339.7l-3.1,2.3-2.5,4-.4,4 .4,14 1.6,3.2 2,1.8 4,1.5 4,0 2.1-.5 3.2-2 2.3-4 .5-16-1.5-4-4.6-4.1-4-1.1zM318,337.8l-4,1.6-2.3,2.6-.7,2 .1,2 .9,1.7 3.1,2.3 2.9,.9 4,0 4-1.5 2-1.9 1.3-3.5-.2-2-1.1-1.8-4-1.8zM508,353.9l-2,1-2,2.7 0,4.4 1,2 3,2 4.2,0 2.8-2 .9-2-.1-4-1.8-3.2-1.5-.8zM560,201l-4,3-1.2,2-.8,3.1 0,2.9 .7,2 4.5,6 4.6,8 2.2,1.8 4,.9 4-.9 14-12.5 .7-1.3 0-2-1.1-2-10.1-8-3.9-2-5.6-1.5-4-.3zM732,223.2l-2,1-1.6,1.8-3,8-4.6,8-.3,2 .5,2 1.5,2 8.6,6 .9,1.5 1.1-1.5 1-6 1.7-4 10-10 1.4-2 .5-2-.5-2-1.5-2-2.9-2-4.8-1.1zM732,264.3l-2.1,3.7-.3,4 1.7,2 2.7,.1 1.3-2.1 .1-2-1.4-5.2z"/>
<path fill="#ff1000" fill-rule="evenodd" d="M148,78l206.5,0 .5,8 1.5,4 3.5,2.9 10,5.1 4,1 4,0 12-4.1 16-1.4 4,.7 10,6.2 4,1.7 2,.1 2-.6 2.1-1.6 1.1-2 .3-2-.5-2-3-2.3-10-1.9-3.2-1.8-1.5-4-.2-6 368.9,0 0,314-634,0 0-64.4 4,0 4-1.6 6-5.5 6.4-4.5 .8-2-3.4-2-9.8-3.4-8-.6 0-50.3 4,0 10,1.8 2-.4 1.8-1.1 1.2-2-.1-2-3.9-2-15,0zM288,167.4l-1,2.6 .5,2 .5,.8 2,1 2.2-1.8 .4-2-.4-2-2.2-1.2zM408,127.9l-4.6,4.1-1.4,2.6-.6,3.4 .3,4 .8,2 1.5,1.7 2,.5 2-.7 2-2.7 2-8.8 2.8-6-.8-1.5-2-.3zM488,123.6l-4,2-6,4.7-8,2.7-6,.5-14-2.4-4,.3-2,.7-2,1.4-1.7,2.5-2.5,10-1.8,4.3-2,.7-6-4.4-2-.8-4,.4-2.5,1.8-6.1,8-3.4,1.9-8,2.5-4,2.8-6,5.4-4,2.1-2-.1-2-1.4-4.9-9.2-7.1-10.9-3.3-3.1-4.7-1.4-4-.3-6,.5-4,1.1-3.3,2.1-1.5,2-.6,2 .1,2 1.3,2.4 6,5.3 1.9,2.3 .9,4-.8,4.6-2,5.5-2,2.8-12,5.4-2,.2-2-.5-10-6.8-4-.9-8,2.2-14,.6-4,1.4-4,2.2-4,1.1-4-.8-7.4-3-8.6-1.4-4,.7-5.7,2.7-10.3,8.5-6.8,7.5-2.4,4-2.2,8-1.7,2-5.8,4-.8,2-1.4,10-.9,2-2,2.2-6,2.2-10,.3-6,2.5-2,.2-10-3.4-6-.6-4,.7-2,1-2.6,2.9-1.1,4 0,6 .9,2 5.3,6 1.4,4-.2,4-2.2,8 .2,2 4.7,8 4.5,10 3.1,3.6 2,1.3 18,5.4 2,1.7 3,4 3.6,8 1.4,1.8 8.6,4.2 1.3,2-.8,2-3.1,2.6-2,3-1.5,6.4 .3,4 1.1,2 2.1,1.9 4,2.2 4,1.1 4-.3 6-2.9 2.1-2 1.1-4-.2-8 1.1-2 1.9-1.2 4-.6 4,.6 8,4.7 4,.6 9.5-2.1 2.5-1.3 2-1.9 1.1-2.8-.4-4-6.7-9.2-.9-2.8 0-4 1.4-12 2-10 2.5-4 5-2.5 4-.6 4,.8 4,2.4 4,4 .9,1.9 .7,4-1.6,10 0,4 1.5,4 2.5,3.8 2,2 2,1 2,.3 2.9-1.1 7.1-8.4 2-1.6 4-1.5 2,.4 2,2.5 4.6,14.6 1.4,1.4 2,0 4-1.9 6-5.2 3.6-4.3 6.4-10.3 2-1.1 2,1.7 2.4,3.7 3.6,3.7 2,1 2-.1 1-.6 3.3-4 3-8 .7-4 .6-12 1.4-5.6 2.3-2.4 7.7-2.6 2.4-1.4 1.8-2 1.5-4 1.4-16 .9-3 2-.7 2,2.7 2,4.7 3.3,12.3 3.4,8 .2,2-.7,2-6.6,6-1.3,2-.2,2 3.4,8 .6,4-.5,4-3.3,10-.4,4 .4,8-1.7,10 1.6,4 3.8,3.7 4,1.5 2-.5 2-1.8 1.4-2.9 2.8-10 3-8 6.8-12.5 2-3.2 2-1.8 2-.7 4,.9 14,8 7.9,3.3 6.1,3.3 4,1 4-.9 4-3.2 4.1-6.2 3.2-8 2.7-2.2 2,.5 2,2.9 2.8,8.8 1,6-.6,8 .8,3 2,2 2,.7 10-.4 2,.6 2.6,2.1 1.4,2 .4,2-1.8,10 1.4,2.5 4,1.4 6,.8 4-.6 6-2.5 4-.4 1.4,.8 1.1,2 .5,8 1,4.2 2,2.8 4,1.9 10-.1 8,2.1 6,.9 6-.5 3.4-1.3 1.4-2 0-2-1.6-2-12-4-3.4-2-1.4-2-.6-4 2.2-8.6 2-3.4 5.1-4 1.4-2 .6-4-.3-12-1.2-4-1.6-1.9-8-5.9-3.4-4.2-1.4-4-.2-8-.6-4-1.8-4-2.5-4-4.1-3.6-6-3.4-6-4.9-6.7-4.1-1.5-2-.7-2-.2-8-1.6-4-2-2-17.4-12-2.9-4-4.6-10-6.4-5.2-6-2.1-4,.7-4,2.6-8,8.6-2,1.3-2,.2-4-1.9-4-4-2-3.3-3.3-12.9-3.4-8 .7-11.2 2-2.8 2-.1 8,2.5 4-.2 4-1.6 7.1-6.6 2.9-1.2 4-.7 2,.3 3.5,1.6 4.5,4.4 2,1.2 10,2.5 10,7.4 4,.8 12-.3 4-.7 4-2 4-3.3 2.6-4 1.7-6 2-4 5.7-6.2 4-3.2 6.9-2.6 3.7-2 1.1-2-.4-4-1.3-2.5-2-1.4-2-.5-26,.5-6-.7-8.6-3.4-5.4-3.3-6,4.4-2,.8-6-.3-6-2.6-6-7-8-6.5-4-1.9zM532,109.3l-3.8,4.7-1.8,4 0,4 .8,4 2.8,7.1 2,0 7.6-5.1 3.7-4 .6-2 0-2-1.4-4-4.5-6.7-2-1.3-2,0zM588,131.6l-2,.5-1.9,1.9-.8,4 .6,2 6.1,3.5 5.4,4.5 2.6,1 16,2.5 8-2 4-.3 8,2.1 2,0 2-.9 1.5-2.4 .7-4-1.1-6-1.1-2-1.9-2-2.1-1-4-.5-8,.9-22,0zM664,183l-2,2.8-.3,2.2 .7,2 1.6,1.4 2,.7 2,0 3.9-2.1 .7-2-.3-2-1.6-2-2.7-1.6-2-.2zM734,195.7l-4.8,2.3-3.2,.7-4-.1-6-1.3-2,.4-2,1.8-2.9,4.5-2,4 0,2 2.6,2 4.3,1.1 8,3.3 4,.2 2-1.3 11.3-11.3 .7-2-.6-4-1.4-2-2-.7zM176,337.9l-3.4,2.1-2,2-2.2,4-.4,4 .4,14 1.6,3.7 2.2,2.3 3.8,1.9 6,.4 4-1.2 1.8-1.1 3.2-4 .8-4 .3-14-1.4-4-4.7-4.8-4-1.9-4-.1zM314,337.4l-2.9,2.6-2.1,4-.1,2 .8,2 2.3,2.3 4,1.8 6,.5 4-1.2 2.2-1.4 1.8-2 1-2 .7-4-.3-2-1.4-2-2-.8-8-1-4,.3zM510,351.9l-4,.9-2,1.2-1.3,2-.6,4 1,4 1.4,2 3.5,1.5 4,.3 2-.4 2-1.3 1.3-2.1 .2-6-1.5-4.5-2-1.3zM560,199.6l-4,2.2-1.8,2.2-1.5,4-.3,4 1.6,3.8 4,4.8 4,7.5 2,2.4 4,1.8 4-.1 2-.5 2.8-1.7 5.6-6 7.6-6 .9-2 0-2-1-2-11.9-9.2-4-1.8-6-1.6-4-.4zM730,222l-2.5,2-3.5,9.4-4.3,6.6-1.2,4 .5,2 1.2,2 6.4,6 1.8,4 0,4-2,8 .9,4 2.7,2.4 4,.7 2.3-1.1 1.2-2 .5-2-.6-16-1-6 .4-4 2.7-4 12.2-10 .7-2-.9-2-2.1-2-5.4-3.3-6-1.1z"/>
<path fill="#ef0000" fill-rule="evenodd" d="M148,78l204.7,0 .3,8 1,4 1.2,2 2.8,2.3 10,4.3 4,1.1 6,.4 4-.6 6-2.7 4-1.1 12-.4 6,1.5 12,6 4,.9 4-1.4 2-2.1 1-2.2 0-4-1.3-2-1.7-1.1-10-2.2-2-.7-2-1.7-1-2.3-.4-6 367.4,0 0,314-634,0 0-62.5 4,0 4-1.5 8-7 9.2-5 1-2-.7-2-1.5-.8-8-1.7-10-3.2-6-.2 0-46.2 16,1.4 2.8-1.3 5.2-5.4 2,.7 2,1.7 1.9,3 .5,4-2.5,8-.5,4 .6,2 4.1,6 5.3,12 1.6,2 3,2 16,5.4 4,2.5 2,2 2.4,4.1 .4,4-.4,4 1.2,2 7.2,2 .7,2-2.5,12-.1,4 .7,2 1.7,2 2.7,1.9 6,2.9 2,.4 4-.4 4-1.7 4.8-3.1 1.5-2 .6-2-.4-8 .6-2 2.2-2 2.7-.6 3.7,.6 8.3,5.2 4,.5 10-2 3.5-1.7 2-2 1.4-4-.5-4-1.1-2-6.2-8-.8-6 1.8-14 1.7-8 2.2-3.2 4-2.1 4-.5 4,1 4.3,2.8 3.4,4 .6,2 .2,4-1.8,8-.1,4 2.7,6 4.7,5.3 2,.9 4-.3 2.6-1.9 4.6-6 2.8-2.5 2-.9 2-.1 2,1.2 2,3.7 1.1,4.6 .9,12.5 4-1.1 6-3.5 8-7.7 6-8.1 2-2.1 2-.8 2,1 6,5.5 2,1 2,0 2-1.1 3.8-5.6 2.8-8 .6-4 .4-12 1-4 1.3-2 2.1-1.5 8-2.9 2.2-1.6 1.4-2 1.2-4 1.2-14.6 2-2 2,2.5 2,5.4 1.8,8.7 2.7,8 0,2-1,2-5.3,4-1.8,2-.8,2-.1,2 .6,2 3.4,6 .9,4-.5,4-3.2,10 .4,12-2,10 1.4,4 5.5,5.5 4,1.7 2-.2 2-1.1 1.5-1.9 6.5-19.9 6-11.9 2-3.3 2-2 2-.9 4,.8 12,7.4 8,2.8 8,4.3 4,1 2-.1 4-1.8 2-2 4.3-6.4 3.7-8.1 2-1.7 2,.8 .6,1 1.4,2.6 2,6.3 .7,5.1-1,8 .9,4 1.7,2 3.7,1.5 8-.6 4,.9 2,1.7 .9,2.5-.1,2-2.8,10.7-2,1.2-10,1-2.4,1.1-2,2-1,4 .4,4 1.3,4 1.7,1.7 4,1.3 4,.4 2-.1 2.8-1.3 1.7-2 .7-2-.2-10 1-2.6 4-.3 10,.7 10-3 2,.7 1.2,2.5 .7,8 1.1,4 1.5,2 3.5,2.5 4,.5 8-.6 8,1.7 6,.7 6-.3 4-1 2.1-1.5 .9-2 0-2-1.1-2-3.5-2-10.4-3.1-3.4-2.9-.7-2 .2-4 2.2-6 1.7-2.2 5.3-3.8 1.6-2 .7-2-.8-18-.8-3.9-1.7-2.1-7.8-4-3.6-4-1.6-4-1.1-12-4.1-8-3.8-4-7.5-4-12.6-10-1.1-2-.7-8-1.3-4-3.1-3-15.7-11-2.8-4-3.8-10-4.8-4-6.9-3.6-4-1-2,0-2,.5-3.6,2.1-6.4,5.9-4,2.8-2,.3-4-1.8-4-4.4-2.1-4.8-1-8 0-14 1.1-2.8 2-.9 8-.6 4-1.2 8-7.5 2.1-1 3.9-.5 2,.4 2,1.1 6,6 2,.8 6,.7 4,1.4 8,7 2,1 4,.7 16-.7 4-1.6 3.6-2.3 4.2-4 1-2 2.8-10 2.7-4 3.7-4 4-2.6 10.6-3.4 2.6-2 .8-2 0-4.2 2-.6 6.1,2.8 19.9,2.6 8-1.9 4-.3 10,3 2-.3 2-1.5 1.4-3.6 .4-4-.5-4-1.4-4-1.9-2.7-4-2.3-4-.3-10,.9-18,0-12-1.9-4,.4-2,1.2-1.9,2.7-2.1,5.9-2,1.4-28,1.5-6.4-.8-4.6-2-2.6-2-1.1-2 .4-2 1.6-2 6.7-6 1.5-2 .6-2-.9-4-3.2-5.9-4-5.2-2-1.1-2,0-2,1.1-6,6.9-4,3.3-2-.1-2-1-1.3,2 1.3,.8 2,.1 2,1.2 2,3 1.4,4.9 .4,4-.9,4-1.3,2-2.9,2-4.7,.4-4-1.4-2-1.4-4.3-5.6-3.7-3.7-6-4.7-4-1.7-4,0-2,.7-8,6.3-4,1.9-4,1-6,.4-12-2-6,.1-4,1.7-1.9,2-1.7,4-2.4,8.5-1.7,1.5-2.3-.6-6-3.1-4,.2-4,2.6-6,8-2,1.3-10,3.9-8,7-4,2-2-.3-2-1.8-7.3-13.2-2.7-6.1-2-2.5-4-1.9-4-.7-6,0-6,.8-4,1.4-2,1.2-2,2.3-1.2,3.5 .1,2 1.1,2.3 8.4,7.7 .9,2-.1,4-1.2,3.4-2,3-2,1.9-8,5-4,1.3-2-.4-10-7.5-4-1.2-2,.4-6,3-4,.8-6,.1-6-.9-1.8-.9 1.2-8-.6-4-2.8-2.1-4,0-2.9,2.1-.8,2 .2,4 1.5,3.8 5.9,4.2-1.3,2-2.6,1.5-2.8,.5-9.2-3-8-1.9-4-.4-4,1.3-6,3.5-10,9.1-6.2,7.4-2.4,4-1.9,6-1.2,2-7.5,4-.9,2 .6,8-.5,3.7-1.1,2.3-2,2-2.9,1.2-4,.7-10-.7-6,2.5-2-.1-10-2.8-4-.3-4,.5-2.6,1-2.4,2-1.6,4-1.4,7-2,1.5-20-.7zM408,123.4l-4,2.6-2,2-1.3,2-1.1,4 .1,6 1,4 1.3,2.3 2,1.6 2,.5 2.1-.4 2.7-2 4.2-12 4.5-6 .8-2-1-2-3.3-1.1-4-.2zM666,179.7l-2,.5-2,1.4-1.8,2.4-1.1,4 .9,3.7 2,1.9 2,.9 4,.2 4-1.1 2.6-1.6 1-2-.6-4-3.3-4-3.7-2zM688,198l-.9,2 .9,1.7 2,.6 2-.7 .9-1.6-.6-2-2.3-.7zM734,194l-4,2.6-4,1.3-4-.2-6-2-2,0-2,1.4-4,5.1-3.9,3.8-1.1,2 0,2 1,2.8 2,1.8 10,1 9.1,4.4 .4,2-1.8,8-1.8,4-4.2,6-1.1,4 1.6,4 5.8,6 1.9,4-.1,4-1.6,8 .7,4 1.3,2 2.6,2 3.2,1.2 2,.1 2-.6 2-1.5 1.6-3.2 .1-16-1.3-10 1.5-4 2.1-2.4 4-3 10.1-4.6 5.9-3.8 1.8-2.2 0-2-1.8-1-8,0-10-4-12-1.2-2-.7-1.1-1.1 .7-2 3.2-4 7.2-6 1.4-2 .4-2-.6-4-1.2-2.5-2-1.8-2-.3zM178,335.5l-4,1.6-2,1.4-4.8,5.5-1.1,4 .4,16 1.5,4.2 4,3.9 4,1.6 6,.4 6-2 2.6-2.1 1.5-2 1.4-4 .5-16-1.4-4-3.3-4-3.3-2.8-4-1.7zM330,334l-4,.8-8-.1-4.6,1.3-2.5,2-3,4-1,4 1.1,3 4,3.4 6,1.8 6-.3 4.5-1.9 3.6-4 1.5-4 .6-4-.2-6.2-2-.5zM562,197.7l-4,1-2,1.1-2.3,2.2-2.5,6-.4,4 .3,2 1,2 5.3,6 3.9,8 1.7,2 3,1.6 2,.5 6-.5 4-2.1 6-6.8 6.7-4.7 1.6-2 .7-2 0-2-.7-2-1.7-2-11.2-8-9.4-3.3zM638,207.2l-.8,.8-.6,2 .6,2 .8,.8 2,.6 2-.6 1.4-2.8-.6-2-.8-.8-2-.7z"/>
<path fill="#cf0000" fill-rule="evenodd" d="M148,78l202.8,0 .3,8 1.4,6 1.5,2.3 4,2.5 12,3.8 8,.8 6-.9 8-3.3 8-.4 14,3.5 8,3.8 4,1.2 4-.9 2.8-2.4 2.1-4 .3-4-.8-2-2.4-2.1-10-2-4-1.9-1.3-2-.5-2 0-4 365.8,0 0,314-634,0 0-60.5 4,0 4-1.4 8-7.3 10.4-4.8 2-2 .9-2 .1-2-.8-2-2.6-1.4-8-.5-12-3.7-6-.3 0-42.4 6,.1 10,1.4 3.5-1.2 4.5-3.6 2-.2 2,1.8 .6,4-3.4,10 .2,4 5.2,8 1.9,8 1.5,3.2 2,2.4 2,1.3 16,5 4,2.1 4,3.4 1.5,2.6 .3,2-1.5,6 0,2 1.6,2 6.1,2.8 1.3,1.2 .7,1.6 .1,4.4-1.1,8 .4,2 1.2,2 2.4,2 9,4.8 2,.4 4-.4 8-4 3.4-2.8 1.1-2 .3-2-.5-8 1.7-2.5 2-.6 2,0 2.7,1.1 5.3,4 2,.9 4,.5 6-.8 6-1.6 4.5-3 1.9-4 .2-4-.5-2-2.1-3.7-5.3-6.3-1.1-4 .2-4 2.2-16 1.3-4 2.7-3 2.2-1 3.8-.4 2.1,.4 3.9,2 4.1,4 .8,2 .4,4-2.1,8-.2,4 2.7,6 4.9,6 3.4,1.6 4-.3 4-3.2 4-5.4 2-1.6 2-.8 2,.3 2,2.1 1.6,5.3 0,4-1.4,6-2.2,3.9-2,1.7-2,1-10,.8-4,1.7-4.7,4.9-2.2,4-.4,2 1.3,3.8 2,2.2 6,3.2 4,.7 4,0 4-.7 2.8-1.2 3.2-2.5 2.3-3.5 1.4-4 1.7-8 1.8-4 8.8-7.5 14-15.7 2-.6 2,.6 6,5 2,1 2,.1 1.9-.9 2.1-2.2 3.3-5.8 2.7-8 .6-4-.1-10 1.5-5.8 2-2.2 8-2.8 2.2-1.2 1.9-2 1.7-4 .8-10 1.4-4.5 2.1,2.5 3.8,18-.5,2-1.4,1.6-5.3,4.4-1.5,4 .4,4 4.4,8 .3,2-.4,4-3.1,10 0,4 1.1,8-2.4,10 1.2,4 7.3,7.4 2,1.2 4,.5 2.8-1.1 1.9-2 5.3-17.2 6-13.3 2-3.5 2-2.3 2-1 4,.7 4,2.3 6,4.6 10,2.9 8,4.4 6,1.1 4-1.2 2-2.1 8-14 2-2.1 2,.9 2,3.8 1.1,4 .4,4-1.4,10 1.5,4 2.4,2 2,.9 12,.3 2,1.1 1,1.7-.4,4-2.6,6.4-2.7,1.6-9.3,1.7-3.3,2.3-1.3,2-.4,4 1,6.5 .9,3.5 1.1,1.1 10,1.9 4-.3 2-1 1.7-1.7 1-2 .1-10 1.2-2.4 4-1 6,.6 4-.1 6-2.2 2,.1 1.1,1 .9,2 .5,8 1.5,4 2,2.3 4,2.7 2,.3 10-1.4 10,1.7 6,.2 6-.3 4-.9 2-1.7 1.2-2.9 0-2-1.2-2.8-2-1.6-8-1.7-5-1.9-2.3-2-.9-2 .2-4 1.6-4 2.4-2.8 6-4.4 2.3-4.8 .6-6-1.3-6-1.2-12-2.4-3-6-2-2-1-2.1-2-1.9-4-1.8-12-5.2-10-3-3.1-9.7-4.9-10.3-9.2-1.4-2.8-1-8-.8-2-2.8-3.2-12.7-8.8-4.3-4-2-4-1.9-8-1.1-2.1-2-1.8-12-5.2-6-.9-4,1.1-8,6.1-4,2.2-2,.1-4-1.7-3.2-3.8-1.4-4-.3-4 1.2-14 .8-2 .9-.9 2.4-1.1 5.6-1 4-1.4 2-1.7 3-3.9 2.5-2 4.5-.8 2.2,.8 1.8,1.7 4,5.4 2,.8 10,1 4,2.7 6,5.9 2,1 4,.5 14-.3 3.8-.7 6.2-3 4.6-3 2-2 1-2 1.1-8 1.3-4 4.3-6 3.7-2.9 4-1.5 8.2-1.6 3.8-1.7 4-2.7 6.3-1.6 5.7,0 10,1.7 8-1.9 4-.3 10,4.1 4-.2 1.6-1.4 .9-2 .9-6-.5-6-2.2-6-1.5-2-2.6-2-4.6-1.3-12,.8-16,.1-16-1.6-2,.3-3.2,1.7-1.5,2-2.8,6-3.2,2-25.3,1.5-4-.3-3.9-1.2-2.9-2-1.1-2 .3-2 1.3-2 9-8 .3-2-1.7-4-6.3-10-3-3.4-2-1-2,0-2,1-6,6.5-2,1.4-2,.5-6-.5-2.8,1.5-.8,2 .7,4 2,2 4.9,2 2,1.8 1.4,4.2-.2,4-.8,2-1.9,2-2.5,1-4-.3-2-1-2-1.8-4.1-5.9-7.9-6.8-4-2.5-4-.7-4,.7-2,1.2-6.8,6.1-5.2,2.2-8,.5-14-1.8-4,.2-3,.9-3,2-1.4,2-2.6,8-2,3.1-2,0-4-1.7-4-.9-8,1.7-.4-4.2 1-4 7.3-10 0-2-2.3-2-3.6-1-8-.9-4,.3-4,2.5-4,4.8-.9,4.3 .3,4 1.8,8 2.2,4 2.6,1.9 2,.8 4,.2 1.1,1.1-1.2,2-9.9,4.8-10,8.3-2,.6-2-.5-2-2.3-5.5-10.9-2.6-8-1.5-2-4.4-2.2-6-.9-8,.3-8,1.7-4,2.6-1.9,2.5-1.1,4 .8,4 1.5,2 7.5,6 1.1,2 .2,2-1.4,4-2.7,3.3-10,6.9-2,.4-2-.4-3.3-2.2-6.7-5.9-4-1.1-4,1.1-6,3.9-6,.7-4.1-.7-2.3-2-.4-2 .2-8-.9-2-2.5-1.9-2-.5-4,0-2,.6-2.5,1.8-1,2-.3,4 1,8-1.2,1.7-8-.5-10-2.6-2,.4-4,2-7.4,5-8.6,8.8-7.1,9.2-4.1,8-8.8,4-1.9,2-.9,2 .5,2 2.8,4 .6,4-1.1,3.6-2,1.9-2,.9-4,.6-4-.6-4-1.6-2-.2-6,3.1-2,.3-12-2.3-8,.5-2,.7-2,1.5-1.1,1.6-2.1,8-.8,1.2-1.4,.8-4.6,.4-14-.3zM664,177.9l-4,3-3,5.1-.4,4 1.6,4 3.8,2.4 4,.6 7.1-1 6-2 .1-2-1-4-1.9-4-1.7-2-2.6-2-4-2.1-2-.4zM736,191.5l-2,.7-5,3.8-3,1-4-.2-6-2.9-2-.2-2,1-6,6.8-4,1.8-2,0-1.4-1.3-3-6-2.3-2-1.3-.4-4,.2-6.5,2.2 0,2 1.4,4 1.1,2 2,1.5 4,.6 6-.6 2,.7 3.7,7.8 2.3,2.5 2,.8 6-.3 4,.5 4.7,2.5 1.7,2 .4,4-.8,4-2,4-4.4,6-.9,4 1.5,4 5.5,6 2.1,4-.2,4-1.5,8 .6,4 1,2 1.8,2 2.5,1.6 4,1.4 2,.2 4-1.3 2-2.1 1.5-3.8 .1-16-1.2-10 1.5-4 2.1-2.1 4-2.4 8-2.5 6-3 4.3-4 1.1-4-.7-2-2.7-1.9-10,.2-8-2.7-10-.8-3-.8-1.1-2 .9-2 3.2-3.3 6-4.1 1.6-2.6 0-4-1.6-4.4-2-2.7-2-1.2zM178,333.8l-4,1.5-2,1.3-3.9,3.4-3,4-1,4 .3,16 1.2,4 1.1,2 3.3,3.2 6,2.5 6,.3 4-.8 4-2 2-1.7 2.5-3.5 1.1-4 .5-16-1.4-4-6.7-7.3-4-2.5-2-.5zM494,372.9l-1.3,1.1-.3,2 1.6,1.6 2-.3 1.1-1.3 .6-2-1.7-1.6zM556,197.5l-3,2.5-2.1,4-1.6,6 0,4 .7,2 7,8 3.3,8 1.7,2 2,1.1 4,.9 4,0 4-.9 2-1 2.4-2.1 4.7-6 6.9-4.6 2.7-3.4 .5-4-1.8-4-13.4-9.5-16-4.3-4,.1zM638,203.4l-2,.7-1.8,1.9-.8,2 0,4 .8,2 1.8,1.9 2,.8 4,0 2-.8 1.8-1.9 .8-2 0-4-.8-2-1.8-1.9-2-.8z"/>
<path fill="#af0000" fill-rule="evenodd" d="M148,78l200.8,0 .2,8 1.1,6 2,4 3.9,2.7 12,2.9 14,1.3 4-1 6-2.9 4-.6 5.4,1.6 2.6,2.7 2,.4 4-1.3 4,.1 10,4.6 4,.6 4-1.6 3.2-3.5 2.3-6-.3-4-1.2-2.4-2-1.4-10-1.1-4-1.6-1.4-1.5-.7-2 0-4 364.1,0 0,314-227,0-.3-6-.8-2-1.9-1.3-4,1-2.8,2.3-.9,2 0,4-396.3,0 0-58.4 4,0 4-1.2 9-8.4 11-4.7 3-3.3 2.1-8 .9-1.6 2-1.2 6-.5 6,.9 5.6,2.4 5.2,4 1.4,2 .3,2-.5,2.3-2.9,5.7 1,2 1.9,1.3 7.1,2.7 2.5,2 .9,4-1.5,8 .9,4 4.1,3.7 8,4.6 4,1.3 2,0 4-1.3 6-3.4 4-2.5 2-2.3 .9-2.1 0-2-1-6 .6-2 1.5-1.2 2-.1 2,.8 6,4.5 6,1.2 6-.6 6-1.3 4-1.8 2-1.7 1.2-1.8 1.2-4-.4-6-2-4-4-4.1-2-2.9-.8-3 .1-4 2.4-16 1.5-4 2.8-2.3 2-.4 4,.5 4,2.5 3,3.7 .6,4-2.4,8 0,4 2.5,6 6.3,7.7 4,1.5 4-.5 4-2.8 4.6-5.9 1.4-1.2 2-.5 2,.9 1.5,2.8 .5,4-.7,4-1.3,3.3-2,3.1-2,1.7-2,.8-8,.8-4,1.4-2,1.6-4.8,5.3-2.5,4-.4,2 .9,4 1.5,2 5.3,3.9 6,1.9 8,0 6-1.9 4.6-3.9 2.9-6 1.7-8 1.5-4 1.4-2 7.9-7.1 12-13.6 2-.8 2,.5 6,5.2 2,1 2,.2 2-.8 2-1.9 3-4.7 4.3-10 .9-6-.4-10 1-4 1.2-2 3.4-2 8.6-1.3 1,1.3-1.8,6-.3,4 1,4 3.2,6 .7,4-3.6,12 .3,4 1.5,4.1 .4,3.9-.4,2.6-2,5.4-.2,4 2.5,4 7.7,7.6 2,1.2 2,.5 4-.3 2.2-1 2.2-2 1.6-4 2.1-10 7.9-18 2-2.8 2-1.3 2-.1 2,.7 7.2,5.5 2.8,1.5 8,1.8 8,4.2 13.2,4.5 .8,2 1-6 2.1-6 4.9-9.3 2-2 2,1 2.2,6.3-.2,3.3-1.9,8.7 .5,4 1.6,2 3.8,2.4 4,.9 8,.2 2,1.2 .6,1.3-.6,4-2,3.1-2,1.1-6,.9-4,1.3-2.4,1.6-1.7,2-.9,4 1.4,8-.4,3.1-2,2.1-5,2.8-1.2,2-.2,2 .6,2 1.8,1.8 2,.6 2-.2 2-1.2 2.8-5 2-2 3.2-.4 10,1.4 4-2 2.3-3 .7-2-.5-8 .5-2 1-1.1 2-.8 8,1 8-1.6 1,.5 1.2,2 .2,6 1.1,4 4.5,5.4 4,3.3 2,.1 6-2.7 4-.6 12,1.3 12,.1 4-.6 2.5-2.3 1.1-4-.3-4-1.3-2.7-2-1.4-8-.8-4.3-1.1-3-2-1.1-2-.2-2 .6-2.4 2-3.5 6-4.3 3.2-3.8 4.7-10-.1-2-3.8-6.4-.9-9.6-1.1-3.4-2-2-8-3.5-2-2.3-1.1-2.8-2.3-10-6.6-12.9-2-2.1-8-2.6-2-1.1-10-9.3-2-4-.8-6-1.7-4-2-2-6.3-4-7.7-6-3.4-4-1.2-4-1.2-8-1-2-1.8-2-2.9-1.3-6-1.2-8-2.9-4-.5-4,1-10,6.3-4,.3-3.4-1.7-1.7-2-1.2-4 1.3-14 .6-2 2.4-2.1 12-1.2 1.3-.7 .7-4 .9-2 1.1-1.3 2-1 2.2,.3 1.6,2 .6,6 3.6,1.3 10-.9 4,.7 3.7,2.9 4.3,5 4,2.3 4,.4 12-.6 8,.5 .8,.4-.1,2-3.5,14 .3,4 1.3,2 6.4,6 1.1,2 2,8 1.7,2 4,1.7 6,.5 6-.6 4-1.6 2.2-2 3.9-6 8.8-6 2.4-4 .3-4-1.2-4-1.5-2-11-8-1.9-1-13-3-10.7-4 5.7-6 1.1-2 .7-12 3.1-6 1.8-2 3.3-2.1 14-2.5 9.1-5.4 4.9-.9 4,.2 8,1.9 2-.1 6-2 4-.3 3.3,1.2 6.7,4 6,2.1 2-1 .4-1.1 1-10-.6-8-1.1-4-1.7-3.6-4-4.1-2-1-4-.8-28,.7-14-1-4,.2-4,1.8-2,2.8-2.2,5-1.8,1.9-2,.8-12,.1-12,1.4-6-1.1-2-1.1-1.4-2 .1-2 1.3-2 4-3.1 6.5-2.9 1.4-2-.7-2-5.2-6.4-8-11.7-2-1.8-2-.9-2,0-2,.9-6,6.6-2,1.4-2,.5-8-.3-2.6,1.7-1.5,4 .5,4 .8,2 2,2 4.8,2.1 2,1.6 1.2,2.3-.1,4-1.1,2-2,1.3-2,.4-2-.4-2.1-1.3-5.4-8-8.5-7-4-2.3-4-.6-4,.6-2,1-6.2,6.3-3.2,2-2.6,.8-6,.5-18-1.6-6,1.2-2,1.2-2,2.1-4,9.6-2,.9-2-.4-9.3-2.3-1.6-2 1.2-4 6.7-8 .3-2-.9-2-4.4-2.2-10-1.8-6-2.3-2,.3-8,8-1.3,2-.8,4 .7,4 3.8,12 1.6,3 2.9,3 .8,2-13.7,11.3-2,.5-2-.8-2-2.9-3.7-8.1-1.4-8-.8-2-1.9-2-4.2-1.9-8-1.2-8,.3-8,1.5-4,1.9-3.1,3.4-1.9,6 .6,4 2.4,3.2 6.8,4.8 1.4,2 .2,2-.6,2-1.8,2.5-10,7.5-2,.4-2-.4-2.8-2-5.2-5.4-2-1.1-4-1-4,.9-5.5,4.6-2.5,1.1-4,.3-2-.5-1.6-.9-1.1-2 .3-8-.3-2-1.2-2-4.1-2.1-4-.4-4.2,.5-3.8,2-1.3,2-.4,2 .3,8-.6,2.4-2,1.4-4-.1-10-3.6-4,1.4-8,5.1-4,3.3-6,6.5-8.9,11.6-3.9,6-9.2,3.9-6,3.2-6,.1-2.3,.8-.9,2 .6,8-1.6,2-5.8,5.1-2,1.1-2,.1-12-2-8,.2-3.6,1.5-1.6,2-1.4,8-1.8,2-3.6,.7-14-.5zM664,175.4l-4,2.6-4.7,6-1.3,6 .7,4 1.3,2 3.2,2 4.8,1.2 10-.7 2,.4 2,1.1 4,6.1 2,1.8 2,.7 8,.1 2,.7 2,2.2 4,6.4 2,1.2 2,.4 8-.5 2.9,.9 2.5,2 1,2 .3,2-.7,4-2,3.6-4.8,6.4-.8,4 1.4,4 5.6,6 2.2,4 .1,2-1.6,8 .4,6 2.1,4 5.4,3.6 6,1.6 2-.2 2.5-1 3.5-3.6 1.5-4.4 .1-16-1.1-8 .5-4 1.4-2 2.8-2 12.8-3.9 6-3.9 2-2.2 1.7-4-.1-4-1.1-2-2.5-1.8-2-.4-10,.1-8-2.6-8,0-3.2-1.3 .2-2 2-2 7.3-4 1.4-2 .4-2-.5-4-1.4-4-2.2-3.8-2-1.7-4-.8-2,.6-6,5-4,.9-4-1.5-4-2.8-2-.4-2,.7-6,6.8-2,1-2-.1-2-1.4-2.8-4.5-1.9-2-3.3-1-8-.1-2-1.4-4-6.6-2.9-2.9-7.1-4.4-2-.5zM178,332l-4,1.3-3.8,2.7-4.5,4-3,4-.9,4 .3,16 1.8,6 4.1,4.7 6,2.8 8,.6 4-.6 4-1.6 4-3 2.1-2.9 1.7-6 .5-16-1.2-4-9.1-9.9-4-2.1zM636,201.2l-2,.9-1.9,1.9-.9,2-.5,6 1.3,3.8 2.2,2.2 3.8,1.3 4,0 3.9-1.3 2.1-2.2 1.2-3.8-.1-4-1.1-4.1-1.8-1.9-2.2-.9-4-.5zM210,226l4-1.3 4-.3 2,.7 .7,.9 .8,2-.2,2-1.1,2-2.2,1.4-2,.6-4-.3-2.9-1.7-1.3-2-.5-2zM148,264l0-.5 4,0 12,1.6 4-.7 4-1.9 1.9,1.5-3,10-.7,8 3.8,3.7 1.2,2.3 .3,8 1.3,6-.9,2-5.2,2-4.7,.2-4-.9-8-3.2-6-.3zM406,268l2,1.3 .1,.7-1,2-1.1,.9-.9-.9z"/>
<path fill="#8f0000" fill-rule="evenodd" d="M148,78l198.4,0 .2,8 1.5,8 1.9,4.1 4,2.9 8,2 14,1 8,1.7 2-.3 5.2-3.4 2.8-.9 2,.1 2,1 1.1,1.8 .9,4-.5,6-2.6,4-5.6,6-.8,2-.4,4 1.1,4 2.8,4.8 5.3,13.2 .1,2-7.4,7.6-2,1.4-2,.4-2-1.4-2-3.8-1.9-6.2-.6-8-1.5-2.8-2-1.6-6-2.1-10-1.1-8,.5-8,1.7-4,2-2.9,3.4-2.1,6-.4,4 .2,2 1.2,2.6 2,1.9 6.2,3.5 1.7,2 .3,2-.9,2-2,2-5.3,4.1-4,1.7-2-.5-1.6-1.3-4.4-5.2-2-1.4-6-1.5-4,.6-2,1.2-3.9,4.3-2.1,1.4-2,.6-2-.2-2.5-1.8-.4-2 .9-8-.3-2-1.7-2.3-3.6-1.7-4.4-.7-6,.3-4,1-2.2,1.4-1.4,2-.4,2 .7,8-.3,2-2.1,2-2.3,.1-2-.6-6-3.9-2-.8-2,.2-6.7,5-6.5,4-2.8,2.5-4,4.3-6,9.1-8.3,10.1-3.7,1.8-8,2.3-4,.4-6-.5-4,1.6-1.7,2.4-.4,2 .2,6-.6,4-2.2,4-1.3,1.3-2,1-2,.1-16-2.7-4,0-4,.7-2.8,1.6-1,2 1,6-.1,2-1.1,1.6-4,.9-12-.6zM419.8,78l362.2,0 0,314-221.9,0 0-4-1.2-8 .3-2 1.1-2 2.7-2 5-.8 18,1 10,1.5 2-.9 1.7-2.8 .8-4 0-6-.7-4-1.8-3.3-2-.6-6,1.6-4,.1-4-1.2-2.5-2.6-.2-2 .5-2 1.2-2 8.4-6 4.6-7.8 4.1-4.2 1-2 .1-2-.9-2-4.3-3.8-1.5-2.2-.6-2-.7-10-1-2-2.2-1.9-6-2.8-1.8-1.3-1.3-2-3.3-10-5-10-2.6-8.3-2-1.6-8,.6-2-.6-2-1.5-4-4.5-4-3.5-1.7-2.6-1.6-8-2.2-4-9.3-6-8.4-8-1.4-4-.8-10-2.6-5.2-2-1.4-10-.3-8-2.8-4-.8-2,.1-4,1.4-6,3.8-4,.6-2.9-1.4-1.2-2 .8-12 1.3-2.6 2-.5 2,.6 4,3.1 4,.9 14-3.6 6-2.1 4-.4 2,.7 2,1.7 4,5.6 2,2 2,1 6,.7 10-1.2 4,.2 2,1 1.1,2.9-.4,4-2.4,8 .4,4 2,2 5.3,3.3 2,2.4 .7,4.3-.5,6 1.2,2 3.5,2 5.1,.8 10,.1 6-1.1 4-2 6-8.8 6-3.4 2-1.9 1.1-1.7 1.3-4 0-6-1.3-4-1.1-1.6-7.8-6.4-2.2-4.5-2-1.4-5.6,1.9-4.4,.3-7.2-2.3-2.2-2-.2-2 3.2-6 .5-2-1.3-8 1.3-6 1.3-2 2.6-2.1 4-1.2 8-.3 4-.7 4-2.2 3.7-3.5 4.3-1.6 4,.2 8,2.4 2,0 8-2.8 2,.1 3.5,1.7 7.4,6 1.7,2 .7,2-.1,8 .8,3.4 2,1.9 4,.6 2-.9 1.6-3 1-10-3.3-26-1.7-6-2.1-4-3.5-3.6-2-1.3-4-1.2-46-.1-4,.5-3.3,1.7-1.5,2-2.2,6-1.5,2-1.5,.9-4,.6-10-.7-8,1.5-6-.3-2.6-2-.1-2 1.6-2 3.1-1.7 8-1.5 3-2.8 .4-2-1.4-2.8-6-4.7-4-4.4-8-11.6-2-1.4-4-.6-2,.6-2,1.4-3.9,5.5-2.1,1.8-4,.6-6-.7-2,.4-2,1.1-1.8,2.8-.7,4-.1,6-1.4,1.4-2-.7-8-5.6-2-.8-4-.5-4,.5-4,1.9-6,7.3-4,1.8-4,.3-18-1.4-8,.9-4.8,2.9-3.2,7.6-2,2.3-4-.2-4.3-1.7-1.2-2 1.5-3.2 5.1-4.8 1.3-2 .3-2-.7-2.5-2-2.2-2-.9-10-1.5-4-1.4-2-1.5-1.3-2-.2-4 1.5-2.9 2-1.2 2-.2 4,1.4 8,4.1 4,.1 2-.7 3.5-2.6 2.8-4 2-6 .1-4-.8-4-1.6-3.9-2-1.4-1.6,1.3-4.4,1.7-4,.3-2-.3-3.1-1.7-.9-1.5zM662,173.2l-9.4,8.8-1.2,4-.7,10-.7,1.9-2,.4-12,0-4,1.4-2,1.9-1.7,4.4-.3,4 .3,4 1.5,4 1.9,2 2.3,1.2 4,.8 6-.3 4.4-1.7 1.9-2 1.3-4 .4-13.3 2-.7 10,1.8 10-.4 2,1 1.5,1.6 2.5,4.2 2,2.1 2,.9 8-.1 2.8,.9 1.9,2 3.3,5.7 2,1.6 4,.7 8-.4 2,.8 2,2.9 0,3.3-2,4-5,5.4-1.5,4 0,2 1.2,4 6,6 1.6,2 .8,2 .1,2-1.6,10 .9,6 .9,2 2.6,2.7 8,4 6,1 4-1.5 3.9-4.2 1.1-2 1-4 .2-16-1.3-8 .9-4 2.2-2 2-.7 12-2.9 4-2.2 2.6-2.2 2.6-4 1-4 0-4-1.7-4-2.5-1.8-2-.5-12-.4-3.3-1.3-3-2-.8-2 2.4-6-.1-4-4.5-10-2.7-3-2-1-4-.5-2,.5-2,1.3-3.9,4.7-2.1,.9-2,.1-2.8-1-5.2-4.9-2-.4-2,.5-2,1.6-4,5.5-2,.9-2-.5-4-6.1-2-1.6-2-.5-8-.1-2-1-5.5-7.4-10.5-7.4-2-.5-2,.2zM510.8,128l1.2-.7 2,.1 2,.6 2,1.3 1.1,2.7-.4,2-.7,.9-2,1.1-2-.6-1.8-1.4-1.5-4zM214,228l2-.5 2.4,.5 .7,2-1.1,1.8-2,.7-3.2-.5-.9-2zM148,266l7,0 11,1.8 2,1 .6,3.2-.9,4-1.7,2.6-4.6,3.4-1.1,2 0,2 1.7,2.9 6,3.4 2,2.1 1.4,3.6 .1,2-.6,2-.9,.8-2,1-4-.1-10-4.4-6-.4zM393.7,278l2.3-.3 2,.9 .5,1.4 0,8 3.5,8.7 .6,3.3-.8,4-1.8,3.6-3.2,4.4-.8,2 .3,2 3.7,2.9 2.1,3.1 0,4-2.6,6-.4,4 2.3,4 4.6,4 6,6.5 4,1.3 4-.1 4-1.3 3.1-2.4 1.7-4 1.4-10 4.6-8 3.2-8.7 2-2.5 2-.5 2,.7 7.8,5 8.2,2.4 8,4.3 8,2.8 2,2.2 3.5,6.3 2.5,1.5 4-.2 6-3.6 2-.2 8,2.3 6,.6 2.7,1.6-.7,2.5-2,1.3-6,.9-4,1.7-4,3.4-1.4,2.2 0,4 1.9,6-.5,4-2,1.8-4.3,2.2-1.6,2-.7,2-.1,2 .7,3.1 2.9,2.9 3.1,.7 4-.7 2-1.7 2.2-4.3 1.7-2 2.1-.6 4,.5 6,1.9 2-.2 2-1 2.9-2.6 2.5-4 .2-4-.8-4 .1-2 1.1-1.5 2-.4 6,1.5 6,.5 .9,1.9 1.3,6 6.1,8 .6,2-.9,2.3-7,5.7-1.3,4 0,4-391.7,0 0-55.5 4,0 4-1 2-1.5 5.1-6 2.9-2.6 3.1-1.4 4.9-1.3 4-2.2 2.4-2.5 3.6-6.9 2-2.1 1.8-1 2.2-.5 4,0 4,1.5 4.2,3 1.4,2 .2,2-1.8,1.9-8,2.1-2.3,2-1.1,2-1.1,4-1.5,1-10,.7-4,1.4-2,1.2-9.7,7.7-1.7,2-1.4,4 0,18 1.3,6 2.2,4 3.3,3.2 4,2.1 4,1.1 8,.5 8-1.6 4-2.1 2-1.7 3.5-5.5 1.3-6 .4-14-.3-4-2.2-4-4.7-4.6-2.5-3.4-.7-2 .5-2 8.7-.1 10,1.1 4.1,1 1.9,1.7 .6,2.3-2.3,10 .3,2 1.1,2 2.3,2.1 12,7.2 4,1.2 2,0 4-1.2 12-7.3 2-1.8 1.3-2.2 .4-2-.7-6 .4-2 .6-.3 6,3.8 4,1.3 4,.5 6-.1 4-.6 4-1.1 4-2 2-1.7 2-3.8 .6-4-.3-6-1.5-4-6.8-7.2-1.1-4.8 .9-6 1.7-6 .5-6.6 2-3.1 2-.7 2.8,.4 2.8,2 2.4,3.9 0,2.1-1.5,4-.1,2 .9,8 1.7,4 7,8.9 4,2.1 4,.1 4-1.5 2-1.6 6-7 2-.2 1.3,1.2 .8,2-.1,3.4-.8,2.6-3.2,5-4,2.1-6,.6-4,1.1-3.9,3.2-7.2,8-1.6,4 0,2 1.5,4 5.2,5 4,2.1 4,1.1 4,.5 6-.2 8-2.1 4-2.9 3.4-5.5 1.1-4 1.1-8 1.7-4 6.7-6.1 12-14 2-.8 2,.4 6,5.9 2,.9 2,.1 2-.6 2.2-1.8 5-8 3.7-8 1.5-6-.7-10 .3-4 2-3zM492.4,312l1.6-1.5 1.9,1.5 .5,4-.4,2.4-2,4.6-2,1.9-2-1.4-.7-3.5 .9-4z"/>
</g>
<g stroke="#262626" stroke-width="1" fill="none" shape-rendering="crispEdges"><rect x="125.5" y="37.5" width="655.0" height="393.0"/></g><g fill="#262626" shape-rendering="crispEdges"><rect x="219" y="424" width="1" height="7"/><rect x="219" y="37" width="1" height="7"/><rect x="312" y="424" width="1" height="7"/><rect x="312" y="37" width="1" height="7"/><rect x="406" y="424" width="1" height="7"/><rect x="406" y="37" width="1" height="7"/><rect x="499" y="424" width="1" height="7"/><rect x="499" y="37" width="1" height="7"/><rect x="593" y="424" width="1" height="7"/><rect x="593" y="37" width="1" height="7"/><rect x="686" y="424" width="1" height="7"/><rect x="686" y="37" width="1" height="7"/><rect x="125" y="86" width="8" height="1"/><rect x="773" y="86" width="8" height="1"/><rect x="125" y="135" width="8" height="1"/><rect x="773" y="135" width="8" height="1"/><rect x="125" y="184" width="8" height="1"/><rect x="773" y="184" width="8" height="1"/><rect x="125" y="233" width="8" height="1"/><rect x="773" y="233" width="8" height="1"/><rect x="125" y="283" width="8" height="1"/><rect x="773" y="283" width="8" height="1"/><rect x="125" y="332" width="8" height="1"/><rect x="773" y="332" width="8" height="1"/><rect x="125" y="381" width="8" height="1"/><rect x="773" y="381" width="8" height="1"/></g>
<g font-size="21.33" text-anchor="end"><text x="116.5" y="44.7">18.38</text><text x="116.5" y="93.8">18.37</text><text x="116.5" y="142.9">18.36</text><text x="116.5" y="192.1">18.35</text><text x="116.5" y="241.2">18.34</text><text x="116.5" y="290.3">18.33</text><text x="116.5" y="339.4">18.32</text><text x="116.5" y="388.6">18.31</text><text x="116.5" y="437.7">18.3</text></g>
<g font-size="21.33" text-anchor="middle"><text x="125.5" y="460">-64.8</text><text x="219.1" y="460">-64.78</text><text x="312.6" y="460">-64.76</text><text x="406.2" y="460">-64.74</text><text x="499.8" y="460">-64.72</text><text x="593.4" y="460">-64.7</text><text x="686.9" y="460">-64.68</text><text x="780.5" y="460">-64.66</text></g>
<text x="452.8" y="27.4" font-size="23.1" font-weight="bold" text-anchor="middle" style="fill:#000">SATURATED VAPOR PRESSURE (kPa) 28-Oct-2025</text>
<text x="453" y="490.6" font-size="23.4" text-anchor="middle">Longitude</text>
<text transform="translate(51.8,233.5) rotate(-90)" font-size="23" text-anchor="middle">Latitude</text>
<rect x="126.5" y="514.5" width="653.0" height="33.0" fill="url(#jet)"/><g stroke="#262626" stroke-width="1" fill="none" shape-rendering="crispEdges"><rect x="126.5" y="514.5" width="653.0" height="33.0"/><path d="M149.5 547.5v-6"/><path d="M218.5 547.5v-6"/><path d="M286.5 547.5v-6"/><path d="M355.5 547.5v-6"/><path d="M424.5 547.5v-6"/><path d="M493.5 547.5v-6"/><path d="M562.5 547.5v-6"/><path d="M631.5 547.5v-6"/><path d="M700.5 547.5v-6"/><path d="M769.5 547.5v-6"/></g>
<g font-size="19" text-anchor="middle"><text x="149.2" y="575">3.05</text><text x="218.1" y="575">3.1</text><text x="287.0" y="575">3.15</text><text x="355.9" y="575">3.2</text><text x="424.8" y="575">3.25</text><text x="493.7" y="575">3.3</text><text x="562.6" y="575">3.35</text><text x="631.5" y="575">3.4</text><text x="700.4" y="575">3.45</text><text x="769.3" y="575">3.5</text></g>
</svg>
</body></html>
